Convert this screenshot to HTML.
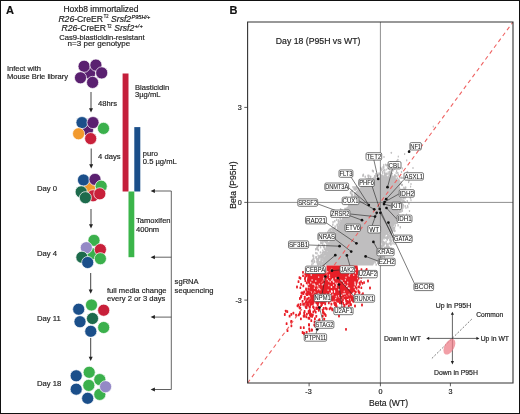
<!DOCTYPE html>
<html><head><meta charset="utf-8"><style>
html,body{margin:0;padding:0;background:#fff;}
svg{display:block;will-change:transform;font-family:"Liberation Sans", sans-serif;}
text{stroke:#222;stroke-width:0.18px;}
text.lb{stroke:#1a1a1a;stroke-width:0.05px;}
</style></head><body>
<svg width="520" height="414" viewBox="0 0 520 414">
<rect x="0.5" y="0.5" width="519" height="413" fill="#fff" stroke="#111" stroke-width="1"/>
<text x="6" y="14.2" font-size="11" font-weight="bold" fill="#111">A</text>
<text x="101" y="12.4" font-size="8.5" text-anchor="middle" fill="#222" >Hoxb8 immortalized</text>
<text x="58.4" y="21.5" font-size="8.3" fill="#222" textLength="44.6" lengthAdjust="spacingAndGlyphs"><tspan font-style="italic">R26</tspan>-CreER</text>
<text x="103.8" y="18.4" font-size="4.80" fill="#222" textLength="4.7" lengthAdjust="spacingAndGlyphs">T2</text>
<text x="111.1" y="21.5" font-size="8.30" fill="#222" textLength="20" lengthAdjust="spacingAndGlyphs" font-style="italic">Srsf2</text>
<text x="131.5" y="18.8" font-size="5.20" fill="#222" textLength="18.9" lengthAdjust="spacingAndGlyphs" font-style="italic">P95H/+</text>
<text x="61.5" y="30.75" font-size="8.3" fill="#222" textLength="44.6" lengthAdjust="spacingAndGlyphs"><tspan font-style="italic">R26</tspan>-CreER</text>
<text x="106.89999999999999" y="27.65" font-size="4.80" fill="#222" textLength="4.7" lengthAdjust="spacingAndGlyphs">T2</text>
<text x="114.19999999999999" y="30.75" font-size="8.30" fill="#222" textLength="20" lengthAdjust="spacingAndGlyphs" font-style="italic">Srsf2</text>
<text x="134.6" y="28.05" font-size="5.20" fill="#222" textLength="8.1" lengthAdjust="spacingAndGlyphs" font-style="italic">+/+</text>
<text x="59.2" y="39.6" font-size="7.98" fill="#222" textLength="85.4" lengthAdjust="spacingAndGlyphs">Cas9-blasticidin-resistant</text>
<text x="67.6" y="46.1" font-size="7.98" fill="#222" textLength="62.7" lengthAdjust="spacingAndGlyphs">n=3 per genotype</text>
<text x="6.9" y="71.3" font-size="7.98" text-anchor="start" fill="#222" textLength="34.2" lengthAdjust="spacingAndGlyphs" >Infect with</text>
<text x="6.9" y="78.8" font-size="7.98" text-anchor="start" fill="#222" textLength="61.2" lengthAdjust="spacingAndGlyphs" >Mouse Brie library</text>
<circle cx="89.6" cy="73.2" r="6.05" fill="#5a2070" stroke="#fff" stroke-width="0.7"/>
<circle cx="84.1" cy="66.3" r="6.05" fill="#5a2070" stroke="#fff" stroke-width="0.7"/>
<circle cx="95.9" cy="65.1" r="6.05" fill="#5a2070" stroke="#fff" stroke-width="0.7"/>
<circle cx="101.7" cy="72.9" r="6.05" fill="#5a2070" stroke="#fff" stroke-width="0.7"/>
<circle cx="80.5" cy="77.8" r="6.05" fill="#5a2070" stroke="#fff" stroke-width="0.7"/>
<circle cx="92.6" cy="82.4" r="6.05" fill="#5a2070" stroke="#fff" stroke-width="0.7"/>
<line x1="91" y1="92" x2="91" y2="109.5" stroke="#222" stroke-width="0.85"/>
<path d="M89,108.2 L93,108.2 L91,112.5 Z" fill="#222"/>
<text x="98" y="106" font-size="7.98" text-anchor="start" fill="#222" textLength="19.0" lengthAdjust="spacingAndGlyphs" >48hrs</text>
<circle cx="87.5" cy="129.9" r="6.05" fill="#5a2070" stroke="#fff" stroke-width="0.7"/>
<circle cx="82.0" cy="122.6" r="6.05" fill="#1b4f8a" stroke="#fff" stroke-width="0.7"/>
<circle cx="93.0" cy="122.6" r="6.05" fill="#5a2070" stroke="#fff" stroke-width="0.7"/>
<circle cx="103.5" cy="128.4" r="6.05" fill="#3bb04c" stroke="#fff" stroke-width="0.7"/>
<circle cx="78.6" cy="133.8" r="6.05" fill="#f29a2e" stroke="#fff" stroke-width="0.7"/>
<circle cx="90.7" cy="138.6" r="6.05" fill="#c8203a" stroke="#fff" stroke-width="0.7"/>
<line x1="91.2" y1="148.5" x2="91.2" y2="165.6" stroke="#222" stroke-width="0.85"/>
<path d="M89.2,164.29999999999998 L93.2,164.29999999999998 L91.2,168.6 Z" fill="#222"/>
<text x="98.1" y="159.2" font-size="7.98" text-anchor="start" fill="#222" textLength="22.4" lengthAdjust="spacingAndGlyphs" >4 days</text>
<circle cx="89.6" cy="188.0" r="6.05" fill="#f29a2e" stroke="#fff" stroke-width="0.7"/>
<circle cx="83.5" cy="180.0" r="6.05" fill="#1b4f8a" stroke="#fff" stroke-width="0.7"/>
<circle cx="95.0" cy="179.4" r="6.05" fill="#5a2070" stroke="#fff" stroke-width="0.7"/>
<circle cx="101.2" cy="186.2" r="6.05" fill="#3bb04c" stroke="#fff" stroke-width="0.7"/>
<circle cx="81.2" cy="191.9" r="6.05" fill="#1d6b4c" stroke="#fff" stroke-width="0.7"/>
<circle cx="93.0" cy="195.8" r="6.05" fill="#c8203a" stroke="#fff" stroke-width="0.7"/>
<circle cx="99.8" cy="193.8" r="6.05" fill="#c8203a" stroke="#fff" stroke-width="0.7"/>
<circle cx="85.4" cy="197.7" r="6.05" fill="#1d6b4c" stroke="#fff" stroke-width="0.7"/>
<text x="36.9" y="191" font-size="8.09" text-anchor="start" fill="#222" textLength="20.1" lengthAdjust="spacingAndGlyphs" >Day 0</text>
<line x1="91" y1="209" x2="91" y2="225.5" stroke="#222" stroke-width="0.85"/>
<path d="M89,224.2 L93,224.2 L91,228.5 Z" fill="#222"/>
<circle cx="92.7" cy="253.8" r="6.05" fill="#3bb04c" stroke="#fff" stroke-width="0.7"/>
<circle cx="94.0" cy="240.4" r="6.05" fill="#3bb04c" stroke="#fff" stroke-width="0.7"/>
<circle cx="86.3" cy="247.7" r="6.05" fill="#9489c6" stroke="#fff" stroke-width="0.7"/>
<circle cx="100.4" cy="249.6" r="6.05" fill="#c8203a" stroke="#fff" stroke-width="0.7"/>
<circle cx="100.4" cy="258.7" r="6.05" fill="#3bb04c" stroke="#fff" stroke-width="0.7"/>
<circle cx="81.9" cy="257.3" r="6.05" fill="#1d6b4c" stroke="#fff" stroke-width="0.7"/>
<circle cx="87.7" cy="262.5" r="6.05" fill="#1b4f8a" stroke="#fff" stroke-width="0.7"/>
<text x="36.9" y="256.2" font-size="8.09" text-anchor="start" fill="#222" textLength="20.1" lengthAdjust="spacingAndGlyphs" >Day 4</text>
<line x1="90.7" y1="273" x2="90.7" y2="290.8" stroke="#222" stroke-width="0.85"/>
<path d="M88.7,289.5 L92.7,289.5 L90.7,293.8 Z" fill="#222"/>
<text x="107" y="292.8" font-size="7.98" text-anchor="start" fill="#222" textLength="59.6" lengthAdjust="spacingAndGlyphs" >full media change</text>
<text x="107" y="300.8" font-size="7.98" text-anchor="start" fill="#222" textLength="58.3" lengthAdjust="spacingAndGlyphs" >every 2 or 3 days</text>
<circle cx="91.5" cy="305.0" r="6.05" fill="#3bb04c" stroke="#fff" stroke-width="0.7"/>
<circle cx="78.7" cy="309.2" r="6.05" fill="#1b4f8a" stroke="#fff" stroke-width="0.7"/>
<circle cx="103.7" cy="310.2" r="6.05" fill="#c8203a" stroke="#fff" stroke-width="0.7"/>
<circle cx="92.5" cy="318.5" r="6.05" fill="#1d6b4c" stroke="#fff" stroke-width="0.7"/>
<circle cx="80.0" cy="321.7" r="6.05" fill="#1b4f8a" stroke="#fff" stroke-width="0.7"/>
<circle cx="103.7" cy="327.5" r="6.05" fill="#3bb04c" stroke="#fff" stroke-width="0.7"/>
<circle cx="90.8" cy="331.3" r="6.05" fill="#1b4f8a" stroke="#fff" stroke-width="0.7"/>
<text x="36.9" y="321.2" font-size="8.09" text-anchor="start" fill="#222" textLength="23.8" lengthAdjust="spacingAndGlyphs" >Day 11</text>
<line x1="90.7" y1="338" x2="90.7" y2="358" stroke="#222" stroke-width="0.85"/>
<path d="M88.7,356.7 L92.7,356.7 L90.7,361 Z" fill="#222"/>
<circle cx="89.2" cy="372.3" r="6.05" fill="#3bb04c" stroke="#fff" stroke-width="0.7"/>
<circle cx="76.2" cy="375.8" r="6.05" fill="#1b4f8a" stroke="#fff" stroke-width="0.7"/>
<circle cx="99.8" cy="379.6" r="6.05" fill="#3bb04c" stroke="#fff" stroke-width="0.7"/>
<circle cx="88.8" cy="385.4" r="6.05" fill="#3bb04c" stroke="#fff" stroke-width="0.7"/>
<circle cx="76.2" cy="389.2" r="6.05" fill="#1b4f8a" stroke="#fff" stroke-width="0.7"/>
<circle cx="99.8" cy="394.4" r="6.05" fill="#3bb04c" stroke="#fff" stroke-width="0.7"/>
<circle cx="105.6" cy="386.7" r="6.05" fill="#9489c6" stroke="#fff" stroke-width="0.7"/>
<circle cx="87.7" cy="398.3" r="6.05" fill="#1b4f8a" stroke="#fff" stroke-width="0.7"/>
<text x="36.9" y="386.2" font-size="8.09" text-anchor="start" fill="#222" textLength="24.4" lengthAdjust="spacingAndGlyphs" >Day 18</text>
<rect x="122.6" y="73.5" width="5.9" height="118" fill="#c41f3b"/>
<rect x="134.3" y="127.1" width="6" height="64.4" fill="#1b4f8a"/>
<rect x="128.5" y="191.5" width="5.8" height="65.7" fill="#3bb54a"/>
<text x="135" y="89.6" font-size="7.98" text-anchor="start" fill="#222" textLength="34.2" lengthAdjust="spacingAndGlyphs" >Blasticidin</text>
<text x="135" y="97.4" font-size="7.98" text-anchor="start" fill="#222" textLength="25.5" lengthAdjust="spacingAndGlyphs" >3µg/mL</text>
<text x="142.8" y="155.7" font-size="7.98" text-anchor="start" fill="#222" textLength="15.2" lengthAdjust="spacingAndGlyphs" >puro</text>
<text x="142.8" y="163.5" font-size="7.98" text-anchor="start" fill="#222" textLength="34.0" lengthAdjust="spacingAndGlyphs" >0.5 µg/mL</text>
<text x="136" y="223" font-size="7.98" text-anchor="start" fill="#222" textLength="34.6" lengthAdjust="spacingAndGlyphs" >Tamoxifen</text>
<text x="136" y="231.7" font-size="7.98" text-anchor="start" fill="#222" textLength="23.2" lengthAdjust="spacingAndGlyphs" >400nm</text>
<line x1="171.3" y1="191" x2="171.3" y2="389.5" stroke="#555" stroke-width="0.9"/>
<line x1="153.6" y1="191" x2="171.3" y2="191" stroke="#444" stroke-width="0.85"/>
<path d="M154.9,189 L154.9,193 L150.6,191 Z" fill="#222"/>
<line x1="153.6" y1="257.2" x2="171.3" y2="257.2" stroke="#444" stroke-width="0.85"/>
<path d="M154.9,255.2 L154.9,259.2 L150.6,257.2 Z" fill="#222"/>
<line x1="153.6" y1="317.1" x2="171.3" y2="317.1" stroke="#444" stroke-width="0.85"/>
<path d="M154.9,315.1 L154.9,319.1 L150.6,317.1 Z" fill="#222"/>
<line x1="153.6" y1="389.5" x2="171.3" y2="389.5" stroke="#444" stroke-width="0.85"/>
<path d="M154.9,387.5 L154.9,391.5 L150.6,389.5 Z" fill="#222"/>
<text x="174.6" y="284.2" font-size="7.98" text-anchor="start" fill="#222" textLength="24.1" lengthAdjust="spacingAndGlyphs" >sgRNA</text>
<text x="174.6" y="293" font-size="7.98" text-anchor="start" fill="#222" textLength="38.9" lengthAdjust="spacingAndGlyphs" >sequencing</text>
<text x="229.6" y="14.1" font-size="11" font-weight="bold" fill="#111">B</text>
<defs><clipPath id="pc"><rect x="247.6" y="22" width="265.4" height="361"/></clipPath></defs>
<g clip-path="url(#pc)">
<polygon points="385,177 393,177 398,182 401,190 402,200 399,208 397,218 394,226 390,232 385,236 382,242 380,250 377,258 373,265.5 321,265.5 324,258 328,250 331,243 334,236 337,228 341,220 347,211 351,204 353,197 356,191 362,186 369,181 375,178 380,177" fill="#bfbebf"/>
<rect x="321.4" y="257.3" width="1.4" height="2.4" rx="0.6" fill="#bfbebf"/>
<rect x="369.0" y="177.9" width="1.4" height="2.4" rx="0.6" fill="#bfbebf"/>
<rect x="362.4" y="183.8" width="1.4" height="2.4" rx="0.6" fill="#bfbebf"/>
<rect x="399.8" y="209.5" width="1.4" height="2.4" rx="0.6" fill="#bfbebf"/>
<rect x="385.2" y="173.6" width="1.4" height="2.4" rx="0.6" fill="#bfbebf"/>
<rect x="378.4" y="253.6" width="1.4" height="2.4" rx="0.6" fill="#bfbebf"/>
<rect x="375.2" y="173.0" width="1.4" height="2.4" rx="0.6" fill="#bfbebf"/>
<rect x="344.8" y="211.6" width="1.4" height="2.4" rx="0.6" fill="#bfbebf"/>
<rect x="389.4" y="171.7" width="1.4" height="2.4" rx="0.6" fill="#bfbebf"/>
<rect x="389.4" y="174.8" width="1.4" height="2.4" rx="0.6" fill="#bfbebf"/>
<rect x="334.1" y="220.0" width="1.4" height="2.4" rx="0.6" fill="#bfbebf"/>
<rect x="353.6" y="188.0" width="1.4" height="2.4" rx="0.6" fill="#bfbebf"/>
<rect x="354.5" y="188.7" width="1.4" height="2.4" rx="0.6" fill="#bfbebf"/>
<rect x="390.2" y="172.7" width="1.4" height="2.4" rx="0.6" fill="#bfbebf"/>
<rect x="347.2" y="207.4" width="1.4" height="2.4" rx="0.6" fill="#bfbebf"/>
<rect x="341.1" y="215.7" width="1.4" height="2.4" rx="0.6" fill="#bfbebf"/>
<rect x="396.0" y="218.6" width="1.4" height="2.4" rx="0.6" fill="#bfbebf"/>
<rect x="389.0" y="235.4" width="1.4" height="2.4" rx="0.6" fill="#bfbebf"/>
<rect x="402.8" y="197.0" width="1.4" height="2.4" rx="0.6" fill="#bfbebf"/>
<rect x="382.2" y="175.6" width="1.4" height="2.4" rx="0.6" fill="#bfbebf"/>
<rect x="400.5" y="204.1" width="1.4" height="2.4" rx="0.6" fill="#bfbebf"/>
<rect x="378.2" y="261.6" width="1.4" height="2.4" rx="0.6" fill="#bfbebf"/>
<rect x="376.9" y="259.3" width="1.4" height="2.4" rx="0.6" fill="#bfbebf"/>
<rect x="356.0" y="185.5" width="1.4" height="2.4" rx="0.6" fill="#bfbebf"/>
<rect x="394.8" y="178.2" width="1.4" height="2.4" rx="0.6" fill="#bfbebf"/>
<rect x="394.5" y="222.1" width="1.4" height="2.4" rx="0.6" fill="#bfbebf"/>
<rect x="331.6" y="238.0" width="1.4" height="2.4" rx="0.6" fill="#bfbebf"/>
<rect x="397.4" y="180.2" width="1.4" height="2.4" rx="0.6" fill="#bfbebf"/>
<rect x="320.6" y="255.9" width="1.4" height="2.4" rx="0.6" fill="#bfbebf"/>
<rect x="383.1" y="241.4" width="1.4" height="2.4" rx="0.6" fill="#bfbebf"/>
<rect x="346.5" y="208.8" width="1.4" height="2.4" rx="0.6" fill="#bfbebf"/>
<rect x="349.8" y="191.8" width="1.4" height="2.4" rx="0.6" fill="#bfbebf"/>
<rect x="383.3" y="253.5" width="1.4" height="2.4" rx="0.6" fill="#bfbebf"/>
<rect x="401.4" y="198.5" width="1.4" height="2.4" rx="0.6" fill="#bfbebf"/>
<rect x="316.2" y="260.4" width="1.4" height="2.4" rx="0.6" fill="#bfbebf"/>
<rect x="382.4" y="244.2" width="1.4" height="2.4" rx="0.6" fill="#bfbebf"/>
<rect x="381.8" y="249.6" width="1.4" height="2.4" rx="0.6" fill="#bfbebf"/>
<rect x="348.2" y="205.8" width="1.4" height="2.4" rx="0.6" fill="#bfbebf"/>
<rect x="372.1" y="177.7" width="1.4" height="2.4" rx="0.6" fill="#bfbebf"/>
<rect x="397.4" y="224.1" width="1.4" height="2.4" rx="0.6" fill="#bfbebf"/>
<rect x="342.0" y="212.9" width="1.4" height="2.4" rx="0.6" fill="#bfbebf"/>
<rect x="380.8" y="245.5" width="1.4" height="2.4" rx="0.6" fill="#bfbebf"/>
<rect x="381.9" y="241.7" width="1.4" height="2.4" rx="0.6" fill="#bfbebf"/>
<rect x="349.3" y="198.4" width="1.4" height="2.4" rx="0.6" fill="#bfbebf"/>
<rect x="378.3" y="172.2" width="1.4" height="2.4" rx="0.6" fill="#bfbebf"/>
<rect x="377.0" y="256.1" width="1.4" height="2.4" rx="0.6" fill="#bfbebf"/>
<rect x="338.0" y="222.4" width="1.4" height="2.4" rx="0.6" fill="#bfbebf"/>
<rect x="384.4" y="174.6" width="1.4" height="2.4" rx="0.6" fill="#bfbebf"/>
<rect x="380.3" y="245.4" width="1.4" height="2.4" rx="0.6" fill="#bfbebf"/>
<rect x="400.1" y="208.0" width="1.4" height="2.4" rx="0.6" fill="#bfbebf"/>
<rect x="385.1" y="174.0" width="1.4" height="2.4" rx="0.6" fill="#bfbebf"/>
<rect x="329.9" y="240.4" width="1.4" height="2.4" rx="0.6" fill="#bfbebf"/>
<rect x="399.6" y="226.1" width="1.4" height="2.4" rx="0.6" fill="#bfbebf"/>
<rect x="344.4" y="207.6" width="1.4" height="2.4" rx="0.6" fill="#bfbebf"/>
<rect x="330.1" y="236.7" width="1.4" height="2.4" rx="0.6" fill="#bfbebf"/>
<rect x="393.8" y="177.3" width="1.4" height="2.4" rx="0.6" fill="#bfbebf"/>
<rect x="397.0" y="177.3" width="1.4" height="2.4" rx="0.6" fill="#bfbebf"/>
<rect x="398.1" y="179.1" width="1.4" height="2.4" rx="0.6" fill="#bfbebf"/>
<rect x="398.2" y="180.0" width="1.4" height="2.4" rx="0.6" fill="#bfbebf"/>
<rect x="330.2" y="240.9" width="1.4" height="2.4" rx="0.6" fill="#bfbebf"/>
<rect x="327.0" y="243.7" width="1.4" height="2.4" rx="0.6" fill="#bfbebf"/>
<rect x="351.8" y="193.5" width="1.4" height="2.4" rx="0.6" fill="#bfbebf"/>
<rect x="339.5" y="215.6" width="1.4" height="2.4" rx="0.6" fill="#bfbebf"/>
<rect x="324.5" y="252.2" width="1.4" height="2.4" rx="0.6" fill="#bfbebf"/>
<rect x="342.0" y="213.4" width="1.4" height="2.4" rx="0.6" fill="#bfbebf"/>
<rect x="390.4" y="233.5" width="1.4" height="2.4" rx="0.6" fill="#bfbebf"/>
<rect x="333.5" y="231.4" width="1.4" height="2.4" rx="0.6" fill="#bfbebf"/>
<rect x="384.3" y="249.0" width="1.4" height="2.4" rx="0.6" fill="#bfbebf"/>
<rect x="376.1" y="174.8" width="1.4" height="2.4" rx="0.6" fill="#bfbebf"/>
<rect x="376.4" y="259.6" width="1.4" height="2.4" rx="0.6" fill="#bfbebf"/>
<rect x="390.0" y="231.0" width="1.4" height="2.4" rx="0.6" fill="#bfbebf"/>
<rect x="392.5" y="226.8" width="1.4" height="2.4" rx="0.6" fill="#bfbebf"/>
<rect x="362.6" y="173.6" width="1.4" height="2.4" rx="0.6" fill="#bfbebf"/>
<rect x="353.9" y="192.0" width="1.4" height="2.4" rx="0.6" fill="#bfbebf"/>
<rect x="374.7" y="176.1" width="1.4" height="2.4" rx="0.6" fill="#bfbebf"/>
<rect x="318.5" y="260.7" width="1.4" height="2.4" rx="0.6" fill="#bfbebf"/>
<rect x="330.5" y="239.5" width="1.4" height="2.4" rx="0.6" fill="#bfbebf"/>
<rect x="392.5" y="226.9" width="1.4" height="2.4" rx="0.6" fill="#bfbebf"/>
<rect x="376.4" y="257.4" width="1.4" height="2.4" rx="0.6" fill="#bfbebf"/>
<rect x="319.9" y="263.3" width="1.4" height="2.4" rx="0.6" fill="#bfbebf"/>
<rect x="403.8" y="191.0" width="1.4" height="2.4" rx="0.6" fill="#bfbebf"/>
<rect x="333.7" y="232.0" width="1.4" height="2.4" rx="0.6" fill="#bfbebf"/>
<rect x="399.0" y="210.6" width="1.4" height="2.4" rx="0.6" fill="#bfbebf"/>
<rect x="355.8" y="186.3" width="1.4" height="2.4" rx="0.6" fill="#bfbebf"/>
<rect x="317.0" y="261.8" width="1.4" height="2.4" rx="0.6" fill="#bfbebf"/>
<rect x="330.9" y="238.0" width="1.4" height="2.4" rx="0.6" fill="#bfbebf"/>
<rect x="400.0" y="206.7" width="1.4" height="2.4" rx="0.6" fill="#bfbebf"/>
<rect x="339.7" y="219.2" width="1.4" height="2.4" rx="0.6" fill="#bfbebf"/>
<rect x="322.2" y="249.2" width="1.4" height="2.4" rx="0.6" fill="#bfbebf"/>
<rect x="347.5" y="199.4" width="1.4" height="2.4" rx="0.6" fill="#bfbebf"/>
<rect x="394.9" y="175.4" width="1.4" height="2.4" rx="0.6" fill="#bfbebf"/>
<rect x="386.3" y="172.8" width="1.4" height="2.4" rx="0.6" fill="#bfbebf"/>
<rect x="389.5" y="233.0" width="1.4" height="2.4" rx="0.6" fill="#bfbebf"/>
<rect x="394.6" y="221.3" width="1.4" height="2.4" rx="0.6" fill="#bfbebf"/>
<rect x="401.3" y="194.4" width="1.4" height="2.4" rx="0.6" fill="#bfbebf"/>
<rect x="391.7" y="229.8" width="1.4" height="2.4" rx="0.6" fill="#bfbebf"/>
<rect x="390.1" y="241.3" width="1.4" height="2.4" rx="0.6" fill="#bfbebf"/>
<rect x="408.2" y="202.3" width="1.4" height="2.4" rx="0.6" fill="#bfbebf"/>
<rect x="361.6" y="181.8" width="1.4" height="2.4" rx="0.6" fill="#bfbebf"/>
<rect x="320.7" y="261.8" width="1.4" height="2.4" rx="0.6" fill="#bfbebf"/>
<rect x="331.5" y="238.2" width="1.4" height="2.4" rx="0.6" fill="#bfbebf"/>
<rect x="396.2" y="221.5" width="1.4" height="2.4" rx="0.6" fill="#bfbebf"/>
<rect x="349.4" y="203.9" width="1.4" height="2.4" rx="0.6" fill="#bfbebf"/>
<rect x="327.4" y="244.5" width="1.4" height="2.4" rx="0.6" fill="#bfbebf"/>
<rect x="376.9" y="258.7" width="1.4" height="2.4" rx="0.6" fill="#bfbebf"/>
<rect x="339.2" y="212.9" width="1.4" height="2.4" rx="0.6" fill="#bfbebf"/>
<rect x="359.5" y="181.6" width="1.4" height="2.4" rx="0.6" fill="#bfbebf"/>
<rect x="336.9" y="223.4" width="1.4" height="2.4" rx="0.6" fill="#bfbebf"/>
<rect x="325.3" y="252.3" width="1.4" height="2.4" rx="0.6" fill="#bfbebf"/>
<rect x="345.3" y="210.6" width="1.4" height="2.4" rx="0.6" fill="#bfbebf"/>
<rect x="400.8" y="192.5" width="1.4" height="2.4" rx="0.6" fill="#bfbebf"/>
<rect x="401.1" y="176.6" width="1.4" height="2.4" rx="0.6" fill="#bfbebf"/>
<rect x="397.7" y="179.0" width="1.4" height="2.4" rx="0.6" fill="#bfbebf"/>
<rect x="401.4" y="188.4" width="1.4" height="2.4" rx="0.6" fill="#bfbebf"/>
<rect x="359.5" y="182.9" width="1.4" height="2.4" rx="0.6" fill="#bfbebf"/>
<rect x="380.8" y="246.3" width="1.4" height="2.4" rx="0.6" fill="#bfbebf"/>
<rect x="394.5" y="224.4" width="1.4" height="2.4" rx="0.6" fill="#bfbebf"/>
<rect x="346.2" y="209.9" width="1.4" height="2.4" rx="0.6" fill="#bfbebf"/>
<rect x="368.2" y="174.6" width="1.4" height="2.4" rx="0.6" fill="#bfbebf"/>
<rect x="345.1" y="210.6" width="1.4" height="2.4" rx="0.6" fill="#bfbebf"/>
<rect x="397.6" y="220.3" width="1.4" height="2.4" rx="0.6" fill="#bfbebf"/>
<rect x="393.4" y="227.8" width="1.4" height="2.4" rx="0.6" fill="#bfbebf"/>
<rect x="323.5" y="239.1" width="1.4" height="2.4" rx="0.6" fill="#bfbebf"/>
<rect x="343.8" y="211.9" width="1.4" height="2.4" rx="0.6" fill="#bfbebf"/>
<rect x="354.6" y="186.5" width="1.4" height="2.4" rx="0.6" fill="#bfbebf"/>
<rect x="354.8" y="187.7" width="1.4" height="2.4" rx="0.6" fill="#bfbebf"/>
<rect x="349.4" y="200.6" width="1.4" height="2.4" rx="0.6" fill="#bfbebf"/>
<rect x="339.9" y="208.1" width="1.4" height="2.4" rx="0.6" fill="#bfbebf"/>
<rect x="336.8" y="225.4" width="1.4" height="2.4" rx="0.6" fill="#bfbebf"/>
<rect x="386.0" y="172.5" width="1.4" height="2.4" rx="0.6" fill="#bfbebf"/>
<rect x="341.2" y="209.0" width="1.4" height="2.4" rx="0.6" fill="#bfbebf"/>
<rect x="398.3" y="181.2" width="1.4" height="2.4" rx="0.6" fill="#bfbebf"/>
<rect x="402.8" y="199.8" width="1.4" height="2.4" rx="0.6" fill="#bfbebf"/>
<rect x="378.7" y="172.8" width="1.4" height="2.4" rx="0.6" fill="#bfbebf"/>
<rect x="367.9" y="176.1" width="1.4" height="2.4" rx="0.6" fill="#bfbebf"/>
<rect x="326.3" y="238.4" width="1.4" height="2.4" rx="0.6" fill="#bfbebf"/>
<rect x="349.2" y="199.9" width="1.4" height="2.4" rx="0.6" fill="#bfbebf"/>
<rect x="340.8" y="212.6" width="1.4" height="2.4" rx="0.6" fill="#bfbebf"/>
<rect x="401.3" y="183.7" width="1.4" height="2.4" rx="0.6" fill="#bfbebf"/>
<rect x="319.9" y="260.9" width="1.4" height="2.4" rx="0.6" fill="#bfbebf"/>
<rect x="349.1" y="198.0" width="1.4" height="2.4" rx="0.6" fill="#bfbebf"/>
<rect x="382.9" y="241.5" width="1.4" height="2.4" rx="0.6" fill="#bfbebf"/>
<rect x="356.0" y="187.7" width="1.4" height="2.4" rx="0.6" fill="#bfbebf"/>
<rect x="383.9" y="171.2" width="1.4" height="2.4" rx="0.6" fill="#bfbebf"/>
<rect x="384.5" y="246.4" width="1.4" height="2.4" rx="0.6" fill="#bfbebf"/>
<rect x="401.4" y="207.7" width="1.4" height="2.4" rx="0.6" fill="#bfbebf"/>
<rect x="334.3" y="229.5" width="1.4" height="2.4" rx="0.6" fill="#bfbebf"/>
<rect x="329.7" y="229.9" width="1.4" height="2.4" rx="0.6" fill="#bfbebf"/>
<rect x="367.7" y="177.1" width="1.4" height="2.4" rx="0.6" fill="#bfbebf"/>
<rect x="381.3" y="248.2" width="1.4" height="2.4" rx="0.6" fill="#bfbebf"/>
<rect x="388.3" y="172.7" width="1.4" height="2.4" rx="0.6" fill="#bfbebf"/>
<rect x="350.8" y="193.2" width="1.4" height="2.4" rx="0.6" fill="#bfbebf"/>
<rect x="399.3" y="206.3" width="1.4" height="2.4" rx="0.6" fill="#bfbebf"/>
<rect x="400.8" y="190.7" width="1.4" height="2.4" rx="0.6" fill="#bfbebf"/>
<rect x="391.1" y="175.8" width="1.4" height="2.4" rx="0.6" fill="#bfbebf"/>
<rect x="380.5" y="174.6" width="1.4" height="2.4" rx="0.6" fill="#bfbebf"/>
<rect x="351.3" y="195.6" width="1.4" height="2.4" rx="0.6" fill="#bfbebf"/>
<rect x="336.7" y="225.3" width="1.4" height="2.4" rx="0.6" fill="#bfbebf"/>
<rect x="344.7" y="208.1" width="1.4" height="2.4" rx="0.6" fill="#bfbebf"/>
<rect x="347.2" y="206.8" width="1.4" height="2.4" rx="0.6" fill="#bfbebf"/>
<rect x="386.1" y="243.8" width="1.4" height="2.4" rx="0.6" fill="#bfbebf"/>
<rect x="328.7" y="233.1" width="1.4" height="2.4" rx="0.6" fill="#bfbebf"/>
<rect x="389.0" y="173.6" width="1.4" height="2.4" rx="0.6" fill="#bfbebf"/>
<rect x="381.2" y="248.9" width="1.4" height="2.4" rx="0.6" fill="#bfbebf"/>
<rect x="341.7" y="216.1" width="1.4" height="2.4" rx="0.6" fill="#bfbebf"/>
<rect x="398.6" y="183.9" width="1.4" height="2.4" rx="0.6" fill="#bfbebf"/>
<rect x="400.3" y="181.1" width="1.4" height="2.4" rx="0.6" fill="#bfbebf"/>
<rect x="397.4" y="212.2" width="1.4" height="2.4" rx="0.6" fill="#bfbebf"/>
<rect x="327.1" y="231.2" width="1.4" height="2.4" rx="0.6" fill="#bfbebf"/>
<rect x="384.0" y="246.8" width="1.4" height="2.4" rx="0.6" fill="#bfbebf"/>
<rect x="350.1" y="191.0" width="1.4" height="2.4" rx="0.6" fill="#bfbebf"/>
<rect x="393.9" y="226.4" width="1.4" height="2.4" rx="0.6" fill="#bfbebf"/>
<rect x="371.8" y="169.4" width="1.4" height="2.4" rx="0.6" fill="#bfbebf"/>
<rect x="358.0" y="182.2" width="1.4" height="2.4" rx="0.6" fill="#bfbebf"/>
<rect x="379.8" y="247.2" width="1.4" height="2.4" rx="0.6" fill="#bfbebf"/>
<rect x="366.5" y="178.2" width="1.4" height="2.4" rx="0.6" fill="#bfbebf"/>
<rect x="395.4" y="178.5" width="1.4" height="2.4" rx="0.6" fill="#bfbebf"/>
<rect x="330.8" y="230.7" width="1.4" height="2.4" rx="0.6" fill="#bfbebf"/>
<rect x="385.7" y="236.2" width="1.4" height="2.4" rx="0.6" fill="#bfbebf"/>
<rect x="373.6" y="176.6" width="1.4" height="2.4" rx="0.6" fill="#bfbebf"/>
<rect x="339.4" y="212.9" width="1.4" height="2.4" rx="0.6" fill="#bfbebf"/>
<rect x="361.8" y="183.1" width="1.4" height="2.4" rx="0.6" fill="#bfbebf"/>
<rect x="345.6" y="208.1" width="1.4" height="2.4" rx="0.6" fill="#bfbebf"/>
<rect x="320.7" y="261.6" width="1.4" height="2.4" rx="0.6" fill="#bfbebf"/>
<rect x="378.3" y="253.2" width="1.4" height="2.4" rx="0.6" fill="#bfbebf"/>
<rect x="383.5" y="242.7" width="1.4" height="2.4" rx="0.6" fill="#bfbebf"/>
<rect x="374.0" y="174.9" width="1.4" height="2.4" rx="0.6" fill="#bfbebf"/>
<rect x="331.1" y="239.5" width="1.4" height="2.4" rx="0.6" fill="#bfbebf"/>
<rect x="382.1" y="174.6" width="1.4" height="2.4" rx="0.6" fill="#bfbebf"/>
<rect x="386.9" y="232.9" width="1.4" height="2.4" rx="0.6" fill="#bfbebf"/>
<rect x="405.4" y="195.4" width="1.4" height="2.4" rx="0.6" fill="#bfbebf"/>
<rect x="325.5" y="248.1" width="1.4" height="2.4" rx="0.6" fill="#bfbebf"/>
<rect x="397.6" y="173.5" width="1.4" height="2.4" rx="0.6" fill="#bfbebf"/>
<rect x="351.1" y="193.5" width="1.4" height="2.4" rx="0.6" fill="#bfbebf"/>
<rect x="350.9" y="197.1" width="1.4" height="2.4" rx="0.6" fill="#bfbebf"/>
<rect x="379.0" y="256.9" width="1.4" height="2.4" rx="0.6" fill="#bfbebf"/>
<rect x="369.6" y="177.8" width="1.4" height="2.4" rx="0.6" fill="#bfbebf"/>
<rect x="400.2" y="210.5" width="1.4" height="2.4" rx="0.6" fill="#bfbebf"/>
<rect x="328.4" y="245.1" width="1.4" height="2.4" rx="0.6" fill="#bfbebf"/>
<rect x="405.0" y="186.3" width="1.4" height="2.4" rx="0.6" fill="#bfbebf"/>
<rect x="373.7" y="176.7" width="1.4" height="2.4" rx="0.6" fill="#bfbebf"/>
<rect x="387.0" y="236.8" width="1.4" height="2.4" rx="0.6" fill="#bfbebf"/>
<rect x="378.6" y="257.1" width="1.4" height="2.4" rx="0.6" fill="#bfbebf"/>
<rect x="360.7" y="184.9" width="1.4" height="2.4" rx="0.6" fill="#bfbebf"/>
<rect x="366.4" y="179.5" width="1.4" height="2.4" rx="0.6" fill="#bfbebf"/>
<rect x="371.4" y="177.9" width="1.4" height="2.4" rx="0.6" fill="#bfbebf"/>
<rect x="349.8" y="199.7" width="1.4" height="2.4" rx="0.6" fill="#bfbebf"/>
<rect x="387.6" y="233.5" width="1.4" height="2.4" rx="0.6" fill="#bfbebf"/>
<rect x="323.1" y="253.4" width="1.4" height="2.4" rx="0.6" fill="#bfbebf"/>
<rect x="335.7" y="211.9" width="1.4" height="2.4" rx="0.6" fill="#bfbebf"/>
<rect x="403.5" y="187.8" width="1.4" height="2.4" rx="0.6" fill="#bfbebf"/>
<rect x="402.2" y="206.0" width="1.4" height="2.4" rx="0.6" fill="#bfbebf"/>
<rect x="332.3" y="234.2" width="1.4" height="2.4" rx="0.6" fill="#bfbebf"/>
<rect x="319.3" y="254.7" width="1.4" height="2.4" rx="0.6" fill="#bfbebf"/>
<rect x="400.9" y="201.7" width="1.4" height="2.4" rx="0.6" fill="#bfbebf"/>
<rect x="393.7" y="177.1" width="1.4" height="2.4" rx="0.6" fill="#bfbebf"/>
<rect x="400.8" y="217.5" width="1.4" height="2.4" rx="0.6" fill="#bfbebf"/>
<rect x="327.0" y="247.8" width="1.4" height="2.4" rx="0.6" fill="#bfbebf"/>
<rect x="385.9" y="242.8" width="1.4" height="2.4" rx="0.6" fill="#bfbebf"/>
<rect x="353.6" y="187.6" width="1.4" height="2.4" rx="0.6" fill="#bfbebf"/>
<rect x="357.7" y="186.9" width="1.4" height="2.4" rx="0.6" fill="#bfbebf"/>
<rect x="400.0" y="204.6" width="1.4" height="2.4" rx="0.6" fill="#bfbebf"/>
<rect x="339.9" y="214.2" width="1.4" height="2.4" rx="0.6" fill="#bfbebf"/>
<rect x="332.0" y="228.9" width="1.4" height="2.4" rx="0.6" fill="#bfbebf"/>
<rect x="333.5" y="233.3" width="1.4" height="2.4" rx="0.6" fill="#bfbebf"/>
<rect x="382.7" y="243.6" width="1.4" height="2.4" rx="0.6" fill="#bfbebf"/>
<rect x="321.5" y="253.3" width="1.4" height="2.4" rx="0.6" fill="#bfbebf"/>
<rect x="401.8" y="202.4" width="1.4" height="2.4" rx="0.6" fill="#bfbebf"/>
<rect x="343.0" y="210.2" width="1.4" height="2.4" rx="0.6" fill="#bfbebf"/>
<rect x="321.0" y="261.9" width="1.4" height="2.4" rx="0.6" fill="#bfbebf"/>
<rect x="325.0" y="240.8" width="1.4" height="2.4" rx="0.6" fill="#bfbebf"/>
<rect x="381.2" y="175.6" width="1.4" height="2.4" rx="0.6" fill="#bfbebf"/>
<rect x="321.8" y="242.8" width="1.4" height="2.4" rx="0.6" fill="#bfbebf"/>
<rect x="377.6" y="173.7" width="1.4" height="2.4" rx="0.6" fill="#bfbebf"/>
<rect x="385.1" y="236.6" width="1.4" height="2.4" rx="0.6" fill="#bfbebf"/>
<rect x="374.6" y="175.3" width="1.4" height="2.4" rx="0.6" fill="#bfbebf"/>
<rect x="399.3" y="204.1" width="1.4" height="2.4" rx="0.6" fill="#bfbebf"/>
<rect x="370.0" y="175.5" width="1.4" height="2.4" rx="0.6" fill="#bfbebf"/>
<rect x="375.5" y="263.4" width="1.4" height="2.4" rx="0.6" fill="#bfbebf"/>
<rect x="397.9" y="181.5" width="1.4" height="2.4" rx="0.6" fill="#bfbebf"/>
<rect x="398.8" y="208.0" width="1.4" height="2.4" rx="0.6" fill="#bfbebf"/>
<rect x="329.7" y="230.8" width="1.4" height="2.4" rx="0.6" fill="#bfbebf"/>
<rect x="398.9" y="215.9" width="1.4" height="2.4" rx="0.6" fill="#bfbebf"/>
<rect x="342.3" y="213.3" width="1.4" height="2.4" rx="0.6" fill="#bfbebf"/>
<rect x="382.1" y="240.3" width="1.4" height="2.4" rx="0.6" fill="#bfbebf"/>
<rect x="401.0" y="203.5" width="1.4" height="2.4" rx="0.6" fill="#bfbebf"/>
<rect x="401.8" y="189.6" width="1.4" height="2.4" rx="0.6" fill="#bfbebf"/>
<rect x="332.4" y="221.0" width="1.4" height="2.4" rx="0.6" fill="#bfbebf"/>
<rect x="384.3" y="173.8" width="1.4" height="2.4" rx="0.6" fill="#bfbebf"/>
<rect x="348.2" y="204.6" width="1.4" height="2.4" rx="0.6" fill="#bfbebf"/>
<rect x="338.1" y="220.1" width="1.4" height="2.4" rx="0.6" fill="#bfbebf"/>
<rect x="345.2" y="209.7" width="1.4" height="2.4" rx="0.6" fill="#bfbebf"/>
<rect x="331.3" y="234.8" width="1.4" height="2.4" rx="0.6" fill="#bfbebf"/>
<rect x="394.2" y="174.9" width="1.4" height="2.4" rx="0.6" fill="#bfbebf"/>
<rect x="340.3" y="215.0" width="1.4" height="2.4" rx="0.6" fill="#bfbebf"/>
<rect x="394.4" y="222.2" width="1.4" height="2.4" rx="0.6" fill="#bfbebf"/>
<rect x="387.9" y="236.3" width="1.4" height="2.4" rx="0.6" fill="#bfbebf"/>
<rect x="352.4" y="186.0" width="1.4" height="2.4" rx="0.6" fill="#bfbebf"/>
<rect x="407.1" y="192.0" width="1.4" height="2.4" rx="0.6" fill="#bfbebf"/>
<rect x="398.7" y="208.0" width="1.4" height="2.4" rx="0.6" fill="#bfbebf"/>
<rect x="364.5" y="175.5" width="1.4" height="2.4" rx="0.6" fill="#bfbebf"/>
<rect x="390.7" y="229.1" width="1.4" height="2.4" rx="0.6" fill="#bfbebf"/>
<rect x="322.7" y="257.4" width="1.4" height="2.4" rx="0.6" fill="#bfbebf"/>
<rect x="328.6" y="244.9" width="1.4" height="2.4" rx="0.6" fill="#bfbebf"/>
<rect x="396.6" y="180.0" width="1.4" height="2.4" rx="0.6" fill="#bfbebf"/>
<rect x="336.4" y="223.6" width="1.4" height="2.4" rx="0.6" fill="#bfbebf"/>
<rect x="374.5" y="261.3" width="1.4" height="2.4" rx="0.6" fill="#bfbebf"/>
<rect x="342.7" y="213.4" width="1.4" height="2.4" rx="0.6" fill="#bfbebf"/>
<rect x="368.7" y="178.3" width="1.4" height="2.4" rx="0.6" fill="#bfbebf"/>
<rect x="402.6" y="192.3" width="1.4" height="2.4" rx="0.6" fill="#bfbebf"/>
<rect x="404.3" y="197.2" width="1.4" height="2.4" rx="0.6" fill="#bfbebf"/>
<rect x="318.0" y="258.2" width="1.4" height="2.4" rx="0.6" fill="#bfbebf"/>
<rect x="318.8" y="262.6" width="1.4" height="2.4" rx="0.6" fill="#bfbebf"/>
<rect x="387.7" y="175.3" width="1.4" height="2.4" rx="0.6" fill="#bfbebf"/>
<rect x="337.6" y="220.4" width="1.4" height="2.4" rx="0.6" fill="#bfbebf"/>
<rect x="347.6" y="207.0" width="1.4" height="2.4" rx="0.6" fill="#bfbebf"/>
<rect x="375.8" y="257.9" width="1.4" height="2.4" rx="0.6" fill="#bfbebf"/>
<rect x="316.6" y="261.2" width="1.4" height="2.4" rx="0.6" fill="#bfbebf"/>
<rect x="385.7" y="175.7" width="1.4" height="2.4" rx="0.6" fill="#bfbebf"/>
<rect x="377.2" y="256.5" width="1.4" height="2.4" rx="0.6" fill="#bfbebf"/>
<rect x="402.4" y="196.3" width="1.4" height="2.4" rx="0.6" fill="#bfbebf"/>
<rect x="394.1" y="229.6" width="1.4" height="2.4" rx="0.6" fill="#bfbebf"/>
<rect x="389.8" y="239.0" width="1.4" height="2.4" rx="0.6" fill="#bfbebf"/>
<rect x="329.7" y="234.6" width="1.4" height="2.4" rx="0.6" fill="#bfbebf"/>
<rect x="376.1" y="174.7" width="1.4" height="2.4" rx="0.6" fill="#bfbebf"/>
<rect x="381.6" y="248.1" width="1.4" height="2.4" rx="0.6" fill="#bfbebf"/>
<rect x="367.3" y="174.5" width="1.4" height="2.4" rx="0.6" fill="#bfbebf"/>
<rect x="324.7" y="238.8" width="1.4" height="2.4" rx="0.6" fill="#bfbebf"/>
<rect x="378.1" y="256.1" width="1.4" height="2.4" rx="0.6" fill="#bfbebf"/>
<rect x="332.1" y="223.5" width="1.4" height="2.4" rx="0.6" fill="#bfbebf"/>
<rect x="351.2" y="189.5" width="1.4" height="2.4" rx="0.6" fill="#bfbebf"/>
<rect x="347.5" y="206.3" width="1.4" height="2.4" rx="0.6" fill="#bfbebf"/>
<rect x="341.1" y="209.9" width="1.4" height="2.4" rx="0.6" fill="#bfbebf"/>
<rect x="365.4" y="178.3" width="1.4" height="2.4" rx="0.6" fill="#bfbebf"/>
<rect x="379.9" y="252.4" width="1.4" height="2.4" rx="0.6" fill="#bfbebf"/>
<rect x="327.9" y="245.0" width="1.4" height="2.4" rx="0.6" fill="#bfbebf"/>
<rect x="398.7" y="182.7" width="1.4" height="2.4" rx="0.6" fill="#bfbebf"/>
<rect x="374.5" y="175.3" width="1.4" height="2.4" rx="0.6" fill="#bfbebf"/>
<rect x="391.7" y="175.4" width="1.4" height="2.4" rx="0.6" fill="#bfbebf"/>
<rect x="323.0" y="245.7" width="1.4" height="2.4" rx="0.6" fill="#bfbebf"/>
<rect x="384.3" y="242.2" width="1.4" height="2.4" rx="0.6" fill="#bfbebf"/>
<rect x="325.9" y="246.4" width="1.4" height="2.4" rx="0.6" fill="#bfbebf"/>
<rect x="360.0" y="180.3" width="1.4" height="2.4" rx="0.6" fill="#bfbebf"/>
<rect x="326.9" y="247.6" width="1.4" height="2.4" rx="0.6" fill="#bfbebf"/>
<rect x="401.3" y="183.8" width="1.4" height="2.4" rx="0.6" fill="#bfbebf"/>
<rect x="347.8" y="206.5" width="1.4" height="2.4" rx="0.6" fill="#bfbebf"/>
<rect x="324.0" y="252.6" width="1.4" height="2.4" rx="0.6" fill="#bfbebf"/>
<rect x="403.2" y="186.4" width="1.4" height="2.4" rx="0.6" fill="#bfbebf"/>
<rect x="318.8" y="255.6" width="1.4" height="2.4" rx="0.6" fill="#bfbebf"/>
<rect x="382.6" y="240.7" width="1.4" height="2.4" rx="0.6" fill="#bfbebf"/>
<rect x="343.1" y="213.9" width="1.4" height="2.4" rx="0.6" fill="#bfbebf"/>
<rect x="321.7" y="251.4" width="1.4" height="2.4" rx="0.6" fill="#bfbebf"/>
<rect x="401.5" y="204.7" width="1.4" height="2.4" rx="0.6" fill="#bfbebf"/>
<rect x="368.8" y="178.4" width="1.4" height="2.4" rx="0.6" fill="#bfbebf"/>
<rect x="399.3" y="205.6" width="1.4" height="2.4" rx="0.6" fill="#bfbebf"/>
<rect x="397.6" y="212.3" width="1.4" height="2.4" rx="0.6" fill="#bfbebf"/>
<rect x="337.3" y="215.2" width="1.4" height="2.4" rx="0.6" fill="#bfbebf"/>
<rect x="398.6" y="207.2" width="1.4" height="2.4" rx="0.6" fill="#bfbebf"/>
<rect x="399.8" y="209.2" width="1.4" height="2.4" rx="0.6" fill="#bfbebf"/>
<rect x="387.0" y="235.1" width="1.4" height="2.4" rx="0.6" fill="#bfbebf"/>
<rect x="383.9" y="235.6" width="1.4" height="2.4" rx="0.6" fill="#bfbebf"/>
<rect x="366.0" y="181.0" width="1.4" height="2.4" rx="0.6" fill="#bfbebf"/>
<rect x="378.2" y="255.7" width="1.4" height="2.4" rx="0.6" fill="#bfbebf"/>
<rect x="382.7" y="253.9" width="1.4" height="2.4" rx="0.6" fill="#bfbebf"/>
<rect x="393.7" y="175.6" width="1.4" height="2.4" rx="0.6" fill="#bfbebf"/>
<rect x="393.7" y="175.0" width="1.4" height="2.4" rx="0.6" fill="#bfbebf"/>
<rect x="357.7" y="187.3" width="1.4" height="2.4" rx="0.6" fill="#bfbebf"/>
<rect x="335.0" y="229.8" width="1.4" height="2.4" rx="0.6" fill="#bfbebf"/>
<rect x="331.0" y="232.8" width="1.4" height="2.4" rx="0.6" fill="#bfbebf"/>
<rect x="398.5" y="207.2" width="1.4" height="2.4" rx="0.6" fill="#bfbebf"/>
<rect x="401.5" y="209.6" width="1.4" height="2.4" rx="0.6" fill="#bfbebf"/>
<rect x="335.9" y="218.5" width="1.4" height="2.4" rx="0.6" fill="#bfbebf"/>
<rect x="409.8" y="196.8" width="1.4" height="2.4" rx="0.6" fill="#bfbebf"/>
<rect x="349.0" y="204.6" width="1.4" height="2.4" rx="0.6" fill="#bfbebf"/>
<rect x="404.0" y="188.4" width="1.4" height="2.4" rx="0.6" fill="#bfbebf"/>
<rect x="397.1" y="180.0" width="1.4" height="2.4" rx="0.6" fill="#bfbebf"/>
<rect x="401.6" y="193.7" width="1.4" height="2.4" rx="0.6" fill="#bfbebf"/>
<rect x="324.8" y="250.2" width="1.4" height="2.4" rx="0.6" fill="#bfbebf"/>
<rect x="380.2" y="246.5" width="1.4" height="2.4" rx="0.6" fill="#bfbebf"/>
<rect x="340.9" y="213.1" width="1.4" height="2.4" rx="0.6" fill="#bfbebf"/>
<rect x="350.3" y="199.9" width="1.4" height="2.4" rx="0.6" fill="#bfbebf"/>
<rect x="401.6" y="200.2" width="1.4" height="2.4" rx="0.6" fill="#bfbebf"/>
<rect x="382.4" y="243.6" width="1.4" height="2.4" rx="0.6" fill="#bfbebf"/>
<rect x="381.8" y="170.9" width="1.4" height="2.4" rx="0.6" fill="#bfbebf"/>
<rect x="327.8" y="247.5" width="1.4" height="2.4" rx="0.6" fill="#bfbebf"/>
<rect x="399.6" y="182.7" width="1.4" height="2.4" rx="0.6" fill="#bfbebf"/>
<rect x="393.7" y="229.8" width="1.4" height="2.4" rx="0.6" fill="#bfbebf"/>
<rect x="329.4" y="237.4" width="1.4" height="2.4" rx="0.6" fill="#bfbebf"/>
<rect x="396.7" y="219.9" width="1.4" height="2.4" rx="0.6" fill="#bfbebf"/>
<rect x="345.6" y="196.3" width="1.4" height="2.4" rx="0.6" fill="#bfbebf"/>
<rect x="354.2" y="186.1" width="1.4" height="2.4" rx="0.6" fill="#bfbebf"/>
<rect x="338.4" y="220.8" width="1.4" height="2.4" rx="0.6" fill="#bfbebf"/>
<rect x="320.1" y="262.5" width="1.4" height="2.4" rx="0.6" fill="#bfbebf"/>
<rect x="404.0" y="195.0" width="1.4" height="2.4" rx="0.6" fill="#bfbebf"/>
<rect x="380.3" y="249.3" width="1.4" height="2.4" rx="0.6" fill="#bfbebf"/>
<rect x="346.6" y="199.6" width="1.4" height="2.4" rx="0.6" fill="#bfbebf"/>
<rect x="396.4" y="216.2" width="1.4" height="2.4" rx="0.6" fill="#bfbebf"/>
<rect x="398.1" y="211.1" width="1.4" height="2.4" rx="0.6" fill="#bfbebf"/>
<rect x="399.1" y="176.3" width="1.4" height="2.4" rx="0.6" fill="#bfbebf"/>
<rect x="378.7" y="253.7" width="1.4" height="2.4" rx="0.6" fill="#bfbebf"/>
<rect x="319.3" y="256.2" width="1.4" height="2.4" rx="0.6" fill="#bfbebf"/>
<rect x="393.2" y="176.6" width="1.4" height="2.4" rx="0.6" fill="#bfbebf"/>
<rect x="395.2" y="178.1" width="1.4" height="2.4" rx="0.6" fill="#bfbebf"/>
<rect x="380.1" y="174.5" width="1.4" height="2.4" rx="0.6" fill="#bfbebf"/>
<rect x="346.8" y="207.9" width="1.4" height="2.4" rx="0.6" fill="#bfbebf"/>
<rect x="320.3" y="260.7" width="1.4" height="2.4" rx="0.6" fill="#bfbebf"/>
<rect x="389.8" y="231.9" width="1.4" height="2.4" rx="0.6" fill="#bfbebf"/>
<rect x="347.8" y="197.4" width="1.4" height="2.4" rx="0.6" fill="#bfbebf"/>
<rect x="362.3" y="174.6" width="1.4" height="2.4" rx="0.6" fill="#bfbebf"/>
<rect x="361.3" y="183.7" width="1.4" height="2.4" rx="0.6" fill="#bfbebf"/>
<rect x="366.3" y="180.1" width="1.4" height="2.4" rx="0.6" fill="#bfbebf"/>
<rect x="348.9" y="203.0" width="1.4" height="2.4" rx="0.6" fill="#bfbebf"/>
<rect x="400.6" y="204.7" width="1.4" height="2.4" rx="0.6" fill="#bfbebf"/>
<rect x="346.4" y="206.8" width="1.4" height="2.4" rx="0.6" fill="#bfbebf"/>
<rect x="396.1" y="221.5" width="1.4" height="2.4" rx="0.6" fill="#bfbebf"/>
<rect x="372.6" y="170.1" width="1.4" height="2.4" rx="0.6" fill="#bfbebf"/>
<rect x="334.4" y="229.2" width="1.4" height="2.4" rx="0.6" fill="#bfbebf"/>
<rect x="351.8" y="197.2" width="1.4" height="2.4" rx="0.6" fill="#bfbebf"/>
<rect x="337.6" y="219.1" width="1.4" height="2.4" rx="0.6" fill="#bfbebf"/>
<rect x="398.5" y="214.5" width="1.4" height="2.4" rx="0.6" fill="#bfbebf"/>
<rect x="350.5" y="201.1" width="1.4" height="2.4" rx="0.6" fill="#bfbebf"/>
<rect x="402.6" y="204.1" width="1.4" height="2.4" rx="0.6" fill="#bfbebf"/>
<rect x="403.7" y="200.6" width="1.4" height="2.4" rx="0.6" fill="#bfbebf"/>
<rect x="351.7" y="190.2" width="1.4" height="2.4" rx="0.6" fill="#bfbebf"/>
<rect x="320.2" y="259.0" width="1.4" height="2.4" rx="0.6" fill="#bfbebf"/>
<rect x="392.9" y="228.9" width="1.4" height="2.4" rx="0.6" fill="#bfbebf"/>
<rect x="383.3" y="175.6" width="1.4" height="2.4" rx="0.6" fill="#bfbebf"/>
<rect x="343.9" y="212.6" width="1.4" height="2.4" rx="0.6" fill="#bfbebf"/>
<rect x="327.1" y="236.5" width="1.4" height="2.4" rx="0.6" fill="#bfbebf"/>
<rect x="348.4" y="203.6" width="1.4" height="2.4" rx="0.6" fill="#bfbebf"/>
<rect x="397.1" y="214.6" width="1.4" height="2.4" rx="0.6" fill="#bfbebf"/>
<rect x="397.7" y="211.2" width="1.4" height="2.4" rx="0.6" fill="#bfbebf"/>
<rect x="388.4" y="235.0" width="1.4" height="2.4" rx="0.6" fill="#bfbebf"/>
<rect x="327.9" y="237.7" width="1.4" height="2.4" rx="0.6" fill="#bfbebf"/>
<rect x="405.2" y="193.7" width="1.4" height="2.4" rx="0.6" fill="#bfbebf"/>
<rect x="398.7" y="209.5" width="1.4" height="2.4" rx="0.6" fill="#bfbebf"/>
<rect x="374.1" y="176.6" width="1.4" height="2.4" rx="0.6" fill="#bfbebf"/>
<rect x="341.2" y="214.6" width="1.4" height="2.4" rx="0.6" fill="#bfbebf"/>
<rect x="339.5" y="217.3" width="1.4" height="2.4" rx="0.6" fill="#bfbebf"/>
<rect x="324.3" y="252.3" width="1.4" height="2.4" rx="0.6" fill="#bfbebf"/>
<rect x="376.2" y="257.0" width="1.4" height="2.4" rx="0.6" fill="#bfbebf"/>
<rect x="406.6" y="200.0" width="1.4" height="2.4" rx="0.6" fill="#bfbebf"/>
<rect x="391.0" y="231.1" width="1.4" height="2.4" rx="0.6" fill="#bfbebf"/>
<rect x="375.1" y="259.3" width="1.4" height="2.4" rx="0.6" fill="#bfbebf"/>
<rect x="392.1" y="227.5" width="1.4" height="2.4" rx="0.6" fill="#bfbebf"/>
<rect x="377.0" y="261.7" width="1.4" height="2.4" rx="0.6" fill="#bfbebf"/>
<rect x="329.6" y="237.1" width="1.4" height="2.4" rx="0.6" fill="#bfbebf"/>
<rect x="390.7" y="231.8" width="1.4" height="2.4" rx="0.6" fill="#bfbebf"/>
<rect x="351.6" y="197.7" width="1.4" height="2.4" rx="0.6" fill="#bfbebf"/>
<rect x="376.4" y="257.2" width="1.4" height="2.4" rx="0.6" fill="#bfbebf"/>
<rect x="379.5" y="252.0" width="1.4" height="2.4" rx="0.6" fill="#bfbebf"/>
<rect x="388.7" y="231.9" width="1.4" height="2.4" rx="0.6" fill="#bfbebf"/>
<rect x="381.8" y="247.3" width="1.4" height="2.4" rx="0.6" fill="#bfbebf"/>
<rect x="377.0" y="176.1" width="1.4" height="2.4" rx="0.6" fill="#bfbebf"/>
<rect x="404.5" y="205.1" width="1.4" height="2.4" rx="0.6" fill="#bfbebf"/>
<rect x="402.8" y="195.7" width="1.4" height="2.4" rx="0.6" fill="#bfbebf"/>
<rect x="342.9" y="214.9" width="1.4" height="2.4" rx="0.6" fill="#bfbebf"/>
<rect x="378.1" y="260.8" width="1.4" height="2.4" rx="0.6" fill="#bfbebf"/>
<rect x="343.2" y="212.1" width="1.4" height="2.4" rx="0.6" fill="#bfbebf"/>
<rect x="398.3" y="179.6" width="1.4" height="2.4" rx="0.6" fill="#bfbebf"/>
<rect x="316.6" y="245.9" width="1.4" height="2.4" rx="0.6" fill="#bfbebf"/>
<rect x="317.0" y="247.9" width="1.4" height="2.4" rx="0.6" fill="#bfbebf"/>
<rect x="328.1" y="244.4" width="1.4" height="2.4" rx="0.6" fill="#bfbebf"/>
<rect x="333.0" y="228.6" width="1.4" height="2.4" rx="0.6" fill="#bfbebf"/>
<rect x="322.3" y="240.8" width="1.4" height="2.4" rx="0.6" fill="#bfbebf"/>
<rect x="315.1" y="251.8" width="1.4" height="2.4" rx="0.6" fill="#bfbebf"/>
<rect x="319.9" y="246.0" width="1.4" height="2.4" rx="0.6" fill="#bfbebf"/>
<rect x="317.2" y="263.2" width="1.4" height="2.4" rx="0.6" fill="#bfbebf"/>
<rect x="329.2" y="242.8" width="1.4" height="2.4" rx="0.6" fill="#bfbebf"/>
<rect x="325.9" y="247.0" width="1.4" height="2.4" rx="0.6" fill="#bfbebf"/>
<rect x="332.7" y="227.3" width="1.4" height="2.4" rx="0.6" fill="#bfbebf"/>
<rect x="316.2" y="258.0" width="1.4" height="2.4" rx="0.6" fill="#bfbebf"/>
<rect x="326.5" y="246.0" width="1.4" height="2.4" rx="0.6" fill="#bfbebf"/>
<rect x="322.1" y="240.4" width="1.4" height="2.4" rx="0.6" fill="#bfbebf"/>
<rect x="327.8" y="236.9" width="1.4" height="2.4" rx="0.6" fill="#bfbebf"/>
<rect x="325.7" y="247.0" width="1.4" height="2.4" rx="0.6" fill="#bfbebf"/>
<rect x="330.7" y="239.7" width="1.4" height="2.4" rx="0.6" fill="#bfbebf"/>
<rect x="330.8" y="239.8" width="1.4" height="2.4" rx="0.6" fill="#bfbebf"/>
<rect x="329.6" y="227.9" width="1.4" height="2.4" rx="0.6" fill="#bfbebf"/>
<rect x="331.5" y="227.2" width="1.4" height="2.4" rx="0.6" fill="#bfbebf"/>
<rect x="325.7" y="239.9" width="1.4" height="2.4" rx="0.6" fill="#bfbebf"/>
<rect x="327.7" y="247.0" width="1.4" height="2.4" rx="0.6" fill="#bfbebf"/>
<rect x="326.3" y="248.9" width="1.4" height="2.4" rx="0.6" fill="#bfbebf"/>
<rect x="327.2" y="248.4" width="1.4" height="2.4" rx="0.6" fill="#bfbebf"/>
<rect x="318.1" y="243.8" width="1.4" height="2.4" rx="0.6" fill="#bfbebf"/>
<rect x="327.5" y="232.6" width="1.4" height="2.4" rx="0.6" fill="#bfbebf"/>
<rect x="331.2" y="227.5" width="1.4" height="2.4" rx="0.6" fill="#bfbebf"/>
<rect x="330.1" y="229.0" width="1.4" height="2.4" rx="0.6" fill="#bfbebf"/>
<rect x="334.3" y="227.0" width="1.4" height="2.4" rx="0.6" fill="#bfbebf"/>
<rect x="323.4" y="256.5" width="1.4" height="2.4" rx="0.6" fill="#bfbebf"/>
<rect x="327.1" y="243.3" width="1.4" height="2.4" rx="0.6" fill="#bfbebf"/>
<rect x="318.0" y="256.6" width="1.4" height="2.4" rx="0.6" fill="#bfbebf"/>
<rect x="311.7" y="259.1" width="1.4" height="2.4" rx="0.6" fill="#bfbebf"/>
<rect x="331.9" y="232.2" width="1.4" height="2.4" rx="0.6" fill="#bfbebf"/>
<rect x="323.4" y="236.4" width="1.4" height="2.4" rx="0.6" fill="#bfbebf"/>
<rect x="316.8" y="262.5" width="1.4" height="2.4" rx="0.6" fill="#bfbebf"/>
<rect x="324.9" y="248.5" width="1.4" height="2.4" rx="0.6" fill="#bfbebf"/>
<rect x="317.9" y="262.8" width="1.4" height="2.4" rx="0.6" fill="#bfbebf"/>
<rect x="330.9" y="238.0" width="1.4" height="2.4" rx="0.6" fill="#bfbebf"/>
<rect x="330.9" y="233.0" width="1.4" height="2.4" rx="0.6" fill="#bfbebf"/>
<rect x="325.9" y="242.0" width="1.4" height="2.4" rx="0.6" fill="#bfbebf"/>
<rect x="322.7" y="236.3" width="1.4" height="2.4" rx="0.6" fill="#bfbebf"/>
<rect x="320.1" y="242.1" width="1.4" height="2.4" rx="0.6" fill="#bfbebf"/>
<rect x="311.2" y="263.2" width="1.4" height="2.4" rx="0.6" fill="#bfbebf"/>
<rect x="324.6" y="252.5" width="1.4" height="2.4" rx="0.6" fill="#bfbebf"/>
<rect x="330.7" y="239.1" width="1.4" height="2.4" rx="0.6" fill="#bfbebf"/>
<rect x="320.4" y="257.2" width="1.4" height="2.4" rx="0.6" fill="#bfbebf"/>
<rect x="317.2" y="259.7" width="1.4" height="2.4" rx="0.6" fill="#bfbebf"/>
<rect x="329.4" y="231.8" width="1.4" height="2.4" rx="0.6" fill="#bfbebf"/>
<rect x="322.9" y="256.9" width="1.4" height="2.4" rx="0.6" fill="#bfbebf"/>
<rect x="327.2" y="236.6" width="1.4" height="2.4" rx="0.6" fill="#bfbebf"/>
<rect x="316.2" y="258.0" width="1.4" height="2.4" rx="0.6" fill="#bfbebf"/>
<rect x="315.0" y="248.1" width="1.4" height="2.4" rx="0.6" fill="#bfbebf"/>
<rect x="331.2" y="230.8" width="1.4" height="2.4" rx="0.6" fill="#bfbebf"/>
<rect x="325.7" y="240.3" width="1.4" height="2.4" rx="0.6" fill="#bfbebf"/>
<rect x="327.6" y="246.9" width="1.4" height="2.4" rx="0.6" fill="#bfbebf"/>
<rect x="321.9" y="252.0" width="1.4" height="2.4" rx="0.6" fill="#bfbebf"/>
<rect x="320.6" y="254.7" width="1.4" height="2.4" rx="0.6" fill="#bfbebf"/>
<rect x="329.7" y="243.0" width="1.4" height="2.4" rx="0.6" fill="#bfbebf"/>
<rect x="325.4" y="249.0" width="1.4" height="2.4" rx="0.6" fill="#bfbebf"/>
<rect x="332.7" y="228.1" width="1.4" height="2.4" rx="0.6" fill="#bfbebf"/>
<rect x="330.8" y="232.8" width="1.4" height="2.4" rx="0.6" fill="#bfbebf"/>
<rect x="322.4" y="254.1" width="1.4" height="2.4" rx="0.6" fill="#bfbebf"/>
<rect x="329.2" y="229.2" width="1.4" height="2.4" rx="0.6" fill="#bfbebf"/>
<rect x="324.3" y="251.0" width="1.4" height="2.4" rx="0.6" fill="#bfbebf"/>
<rect x="324.9" y="252.9" width="1.4" height="2.4" rx="0.6" fill="#bfbebf"/>
<rect x="327.8" y="242.1" width="1.4" height="2.4" rx="0.6" fill="#bfbebf"/>
<rect x="317.7" y="257.7" width="1.4" height="2.4" rx="0.6" fill="#bfbebf"/>
<rect x="327.9" y="229.4" width="1.4" height="2.4" rx="0.6" fill="#bfbebf"/>
<rect x="331.8" y="228.3" width="1.4" height="2.4" rx="0.6" fill="#bfbebf"/>
<rect x="332.2" y="235.1" width="1.4" height="2.4" rx="0.6" fill="#bfbebf"/>
<rect x="323.3" y="255.0" width="1.4" height="2.4" rx="0.6" fill="#bfbebf"/>
<rect x="323.2" y="251.1" width="1.4" height="2.4" rx="0.6" fill="#bfbebf"/>
<rect x="317.8" y="262.8" width="1.4" height="2.4" rx="0.6" fill="#bfbebf"/>
<rect x="317.0" y="259.6" width="1.4" height="2.4" rx="0.6" fill="#bfbebf"/>
<rect x="326.8" y="239.5" width="1.4" height="2.4" rx="0.6" fill="#bfbebf"/>
<rect x="330.2" y="240.6" width="1.4" height="2.4" rx="0.6" fill="#bfbebf"/>
<rect x="325.7" y="250.9" width="1.4" height="2.4" rx="0.6" fill="#bfbebf"/>
<rect x="332.8" y="227.9" width="1.4" height="2.4" rx="0.6" fill="#bfbebf"/>
<rect x="329.8" y="235.0" width="1.4" height="2.4" rx="0.6" fill="#bfbebf"/>
<rect x="332.2" y="234.1" width="1.4" height="2.4" rx="0.6" fill="#bfbebf"/>
<rect x="313.0" y="257.3" width="1.4" height="2.4" rx="0.6" fill="#bfbebf"/>
<rect x="331.8" y="227.5" width="1.4" height="2.4" rx="0.6" fill="#bfbebf"/>
<rect x="322.1" y="243.3" width="1.4" height="2.4" rx="0.6" fill="#bfbebf"/>
<rect x="328.8" y="242.6" width="1.4" height="2.4" rx="0.6" fill="#bfbebf"/>
<rect x="332.7" y="231.7" width="1.4" height="2.4" rx="0.6" fill="#bfbebf"/>
<rect x="324.3" y="234.1" width="1.4" height="2.4" rx="0.6" fill="#bfbebf"/>
<rect x="310.9" y="260.1" width="1.4" height="2.4" rx="0.6" fill="#bfbebf"/>
<rect x="320.1" y="255.8" width="1.4" height="2.4" rx="0.6" fill="#bfbebf"/>
<rect x="329.1" y="232.3" width="1.4" height="2.4" rx="0.6" fill="#bfbebf"/>
<rect x="317.9" y="256.4" width="1.4" height="2.4" rx="0.6" fill="#bfbebf"/>
<rect x="313.9" y="260.5" width="1.4" height="2.4" rx="0.6" fill="#bfbebf"/>
<rect x="322.7" y="238.0" width="1.4" height="2.4" rx="0.6" fill="#bfbebf"/>
<rect x="312.3" y="254.3" width="1.4" height="2.4" rx="0.6" fill="#bfbebf"/>
<rect x="325.0" y="233.3" width="1.4" height="2.4" rx="0.6" fill="#bfbebf"/>
<rect x="321.1" y="259.6" width="1.4" height="2.4" rx="0.6" fill="#bfbebf"/>
<rect x="326.3" y="244.3" width="1.4" height="2.4" rx="0.6" fill="#bfbebf"/>
<rect x="329.0" y="233.5" width="1.4" height="2.4" rx="0.6" fill="#bfbebf"/>
<rect x="326.8" y="244.2" width="1.4" height="2.4" rx="0.6" fill="#bfbebf"/>
<rect x="320.2" y="240.5" width="1.4" height="2.4" rx="0.6" fill="#bfbebf"/>
<rect x="323.0" y="251.1" width="1.4" height="2.4" rx="0.6" fill="#bfbebf"/>
<rect x="334.4" y="225.3" width="1.4" height="2.4" rx="0.6" fill="#bfbebf"/>
<rect x="326.3" y="238.9" width="1.4" height="2.4" rx="0.6" fill="#bfbebf"/>
<rect x="325.0" y="252.6" width="1.4" height="2.4" rx="0.6" fill="#bfbebf"/>
<rect x="325.1" y="232.6" width="1.4" height="2.4" rx="0.6" fill="#bfbebf"/>
<rect x="333.0" y="231.8" width="1.4" height="2.4" rx="0.6" fill="#bfbebf"/>
<rect x="323.7" y="251.2" width="1.4" height="2.4" rx="0.6" fill="#bfbebf"/>
<rect x="324.3" y="253.1" width="1.4" height="2.4" rx="0.6" fill="#bfbebf"/>
<rect x="317.2" y="262.0" width="1.4" height="2.4" rx="0.6" fill="#bfbebf"/>
<rect x="332.2" y="229.2" width="1.4" height="2.4" rx="0.6" fill="#bfbebf"/>
<rect x="329.0" y="241.2" width="1.4" height="2.4" rx="0.6" fill="#bfbebf"/>
<rect x="315.7" y="255.9" width="1.4" height="2.4" rx="0.6" fill="#bfbebf"/>
<rect x="321.4" y="258.7" width="1.4" height="2.4" rx="0.6" fill="#bfbebf"/>
<rect x="333.1" y="230.4" width="1.4" height="2.4" rx="0.6" fill="#bfbebf"/>
<rect x="324.0" y="240.2" width="1.4" height="2.4" rx="0.6" fill="#bfbebf"/>
<rect x="321.5" y="255.3" width="1.4" height="2.4" rx="0.6" fill="#bfbebf"/>
<rect x="315.7" y="256.8" width="1.4" height="2.4" rx="0.6" fill="#bfbebf"/>
<rect x="316.3" y="252.2" width="1.4" height="2.4" rx="0.6" fill="#bfbebf"/>
<rect x="320.1" y="254.5" width="1.4" height="2.4" rx="0.6" fill="#bfbebf"/>
<rect x="323.6" y="246.8" width="1.4" height="2.4" rx="0.6" fill="#bfbebf"/>
<rect x="315.9" y="247.3" width="1.4" height="2.4" rx="0.6" fill="#bfbebf"/>
<rect x="323.8" y="244.2" width="1.4" height="2.4" rx="0.6" fill="#bfbebf"/>
<rect x="318.6" y="262.5" width="1.4" height="2.4" rx="0.6" fill="#bfbebf"/>
<rect x="324.0" y="247.9" width="1.4" height="2.4" rx="0.6" fill="#bfbebf"/>
<rect x="320.2" y="261.5" width="1.4" height="2.4" rx="0.6" fill="#bfbebf"/>
<rect x="317.5" y="254.4" width="1.4" height="2.4" rx="0.6" fill="#bfbebf"/>
<rect x="330.3" y="231.8" width="1.4" height="2.4" rx="0.6" fill="#bfbebf"/>
<rect x="312.0" y="260.2" width="1.4" height="2.4" rx="0.6" fill="#bfbebf"/>
<rect x="326.9" y="240.9" width="1.4" height="2.4" rx="0.6" fill="#bfbebf"/>
<rect x="327.4" y="238.7" width="1.4" height="2.4" rx="0.6" fill="#bfbebf"/>
<rect x="331.7" y="236.2" width="1.4" height="2.4" rx="0.6" fill="#bfbebf"/>
<rect x="319.7" y="251.2" width="1.4" height="2.4" rx="0.6" fill="#bfbebf"/>
<rect x="320.8" y="261.9" width="1.4" height="2.4" rx="0.6" fill="#bfbebf"/>
<rect x="320.7" y="254.0" width="1.4" height="2.4" rx="0.6" fill="#bfbebf"/>
<rect x="312.7" y="257.7" width="1.4" height="2.4" rx="0.6" fill="#bfbebf"/>
<rect x="315.3" y="256.1" width="1.4" height="2.4" rx="0.6" fill="#bfbebf"/>
<rect x="312.4" y="262.1" width="1.4" height="2.4" rx="0.6" fill="#bfbebf"/>
<rect x="322.2" y="255.6" width="1.4" height="2.4" rx="0.6" fill="#bfbebf"/>
<rect x="326.5" y="248.6" width="1.4" height="2.4" rx="0.6" fill="#bfbebf"/>
<rect x="316.5" y="247.8" width="1.4" height="2.4" rx="0.6" fill="#bfbebf"/>
<rect x="317.7" y="245.1" width="1.4" height="2.4" rx="0.6" fill="#bfbebf"/>
<rect x="320.8" y="253.9" width="1.4" height="2.4" rx="0.6" fill="#bfbebf"/>
<rect x="312.9" y="255.1" width="1.4" height="2.4" rx="0.6" fill="#bfbebf"/>
<rect x="333.2" y="227.9" width="1.4" height="2.4" rx="0.6" fill="#bfbebf"/>
<rect x="327.2" y="244.2" width="1.4" height="2.4" rx="0.6" fill="#bfbebf"/>
<rect x="327.0" y="235.3" width="1.4" height="2.4" rx="0.6" fill="#bfbebf"/>
<rect x="321.5" y="255.9" width="1.4" height="2.4" rx="0.6" fill="#bfbebf"/>
<rect x="326.0" y="245.2" width="1.4" height="2.4" rx="0.6" fill="#bfbebf"/>
<rect x="317.6" y="248.9" width="1.4" height="2.4" rx="0.6" fill="#bfbebf"/>
<rect x="313.4" y="259.5" width="1.4" height="2.4" rx="0.6" fill="#bfbebf"/>
<rect x="325.1" y="237.5" width="1.4" height="2.4" rx="0.6" fill="#bfbebf"/>
<rect x="328.7" y="235.3" width="1.4" height="2.4" rx="0.6" fill="#bfbebf"/>
<rect x="312.6" y="255.1" width="1.4" height="2.4" rx="0.6" fill="#bfbebf"/>
<rect x="327.1" y="243.6" width="1.4" height="2.4" rx="0.6" fill="#bfbebf"/>
<rect x="321.0" y="241.6" width="1.4" height="2.4" rx="0.6" fill="#bfbebf"/>
<rect x="329.3" y="228.8" width="1.4" height="2.4" rx="0.6" fill="#bfbebf"/>
<rect x="331.7" y="235.7" width="1.4" height="2.4" rx="0.6" fill="#bfbebf"/>
<rect x="316.9" y="259.7" width="1.4" height="2.4" rx="0.6" fill="#bfbebf"/>
<rect x="324.8" y="252.0" width="1.4" height="2.4" rx="0.6" fill="#bfbebf"/>
<rect x="323.7" y="235.2" width="1.4" height="2.4" rx="0.6" fill="#bfbebf"/>
<rect x="388.2" y="246.4" width="1.4" height="2.4" rx="0.6" fill="#bfbebf"/>
<rect x="381.4" y="257.2" width="1.4" height="2.4" rx="0.6" fill="#bfbebf"/>
<rect x="385.3" y="250.3" width="1.4" height="2.4" rx="0.6" fill="#bfbebf"/>
<rect x="383.0" y="253.4" width="1.4" height="2.4" rx="0.6" fill="#bfbebf"/>
<rect x="385.9" y="245.6" width="1.4" height="2.4" rx="0.6" fill="#bfbebf"/>
<rect x="383.2" y="244.3" width="1.4" height="2.4" rx="0.6" fill="#bfbebf"/>
<rect x="391.5" y="238.2" width="1.4" height="2.4" rx="0.6" fill="#bfbebf"/>
<rect x="377.1" y="256.0" width="1.4" height="2.4" rx="0.6" fill="#bfbebf"/>
<rect x="386.9" y="237.3" width="1.4" height="2.4" rx="0.6" fill="#bfbebf"/>
<rect x="386.3" y="246.7" width="1.4" height="2.4" rx="0.6" fill="#bfbebf"/>
<rect x="386.5" y="253.2" width="1.4" height="2.4" rx="0.6" fill="#bfbebf"/>
<rect x="389.4" y="239.1" width="1.4" height="2.4" rx="0.6" fill="#bfbebf"/>
<rect x="383.9" y="241.9" width="1.4" height="2.4" rx="0.6" fill="#bfbebf"/>
<rect x="392.3" y="242.1" width="1.4" height="2.4" rx="0.6" fill="#bfbebf"/>
<rect x="382.4" y="247.5" width="1.4" height="2.4" rx="0.6" fill="#bfbebf"/>
<rect x="382.7" y="248.7" width="1.4" height="2.4" rx="0.6" fill="#bfbebf"/>
<rect x="387.2" y="243.9" width="1.4" height="2.4" rx="0.6" fill="#bfbebf"/>
<rect x="380.2" y="247.1" width="1.4" height="2.4" rx="0.6" fill="#bfbebf"/>
<rect x="377.2" y="257.7" width="1.4" height="2.4" rx="0.6" fill="#bfbebf"/>
<rect x="383.4" y="237.3" width="1.4" height="2.4" rx="0.6" fill="#bfbebf"/>
<rect x="381.1" y="244.6" width="1.4" height="2.4" rx="0.6" fill="#bfbebf"/>
<rect x="386.2" y="237.2" width="1.4" height="2.4" rx="0.6" fill="#bfbebf"/>
<rect x="381.8" y="240.9" width="1.4" height="2.4" rx="0.6" fill="#bfbebf"/>
<rect x="390.0" y="235.9" width="1.4" height="2.4" rx="0.6" fill="#bfbebf"/>
<rect x="383.5" y="241.7" width="1.4" height="2.4" rx="0.6" fill="#bfbebf"/>
<rect x="390.9" y="239.9" width="1.4" height="2.4" rx="0.6" fill="#bfbebf"/>
<rect x="380.7" y="250.9" width="1.4" height="2.4" rx="0.6" fill="#bfbebf"/>
<rect x="388.6" y="246.7" width="1.4" height="2.4" rx="0.6" fill="#bfbebf"/>
<rect x="377.6" y="257.5" width="1.4" height="2.4" rx="0.6" fill="#bfbebf"/>
<rect x="390.2" y="243.1" width="1.4" height="2.4" rx="0.6" fill="#bfbebf"/>
<rect x="387.8" y="245.7" width="1.4" height="2.4" rx="0.6" fill="#bfbebf"/>
<rect x="391.3" y="236.1" width="1.4" height="2.4" rx="0.6" fill="#bfbebf"/>
<rect x="387.2" y="245.5" width="1.4" height="2.4" rx="0.6" fill="#bfbebf"/>
<rect x="387.7" y="236.4" width="1.4" height="2.4" rx="0.6" fill="#bfbebf"/>
<rect x="378.9" y="260.0" width="1.4" height="2.4" rx="0.6" fill="#bfbebf"/>
<rect x="383.7" y="256.0" width="1.4" height="2.4" rx="0.6" fill="#bfbebf"/>
<rect x="390.4" y="247.3" width="1.4" height="2.4" rx="0.6" fill="#bfbebf"/>
<rect x="389.5" y="248.6" width="1.4" height="2.4" rx="0.6" fill="#bfbebf"/>
<rect x="389.4" y="238.9" width="1.4" height="2.4" rx="0.6" fill="#bfbebf"/>
<rect x="383.1" y="254.5" width="1.4" height="2.4" rx="0.6" fill="#bfbebf"/>
<rect x="388.8" y="242.2" width="1.4" height="2.4" rx="0.6" fill="#bfbebf"/>
<rect x="380.7" y="255.6" width="1.4" height="2.4" rx="0.6" fill="#bfbebf"/>
<rect x="384.4" y="249.6" width="1.4" height="2.4" rx="0.6" fill="#bfbebf"/>
<rect x="380.1" y="259.6" width="1.4" height="2.4" rx="0.6" fill="#bfbebf"/>
<rect x="387.3" y="242.8" width="1.4" height="2.4" rx="0.6" fill="#bfbebf"/>
<rect x="392.9" y="239.0" width="1.4" height="2.4" rx="0.6" fill="#bfbebf"/>
<rect x="390.1" y="243.0" width="1.4" height="2.4" rx="0.6" fill="#bfbebf"/>
<rect x="381.6" y="254.1" width="1.4" height="2.4" rx="0.6" fill="#bfbebf"/>
<rect x="386.0" y="252.9" width="1.4" height="2.4" rx="0.6" fill="#bfbebf"/>
<rect x="380.5" y="248.7" width="1.4" height="2.4" rx="0.6" fill="#bfbebf"/>
<rect x="386.4" y="237.0" width="1.4" height="2.4" rx="0.6" fill="#bfbebf"/>
<rect x="381.7" y="255.1" width="1.4" height="2.4" rx="0.6" fill="#bfbebf"/>
<rect x="382.5" y="250.0" width="1.4" height="2.4" rx="0.6" fill="#bfbebf"/>
<rect x="382.0" y="244.5" width="1.4" height="2.4" rx="0.6" fill="#bfbebf"/>
<rect x="385.1" y="249.3" width="1.4" height="2.4" rx="0.6" fill="#bfbebf"/>
<rect x="380.0" y="251.8" width="1.4" height="2.4" rx="0.6" fill="#bfbebf"/>
<rect x="389.3" y="234.2" width="1.4" height="2.4" rx="0.6" fill="#bfbebf"/>
<rect x="389.5" y="237.7" width="1.4" height="2.4" rx="0.6" fill="#bfbebf"/>
<rect x="385.4" y="240.5" width="1.4" height="2.4" rx="0.6" fill="#bfbebf"/>
<rect x="386.6" y="238.4" width="1.4" height="2.4" rx="0.6" fill="#bfbebf"/>
<rect x="382.1" y="175.8" width="1.2" height="2.2" rx="0.6" fill="#bfbebf"/>
<rect x="383.2" y="163.8" width="1.2" height="2.2" rx="0.6" fill="#bfbebf"/>
<rect x="380.5" y="167.8" width="1.2" height="2.2" rx="0.6" fill="#bfbebf"/>
<rect x="387.6" y="171.2" width="1.2" height="2.2" rx="0.6" fill="#bfbebf"/>
<rect x="385.7" y="164.3" width="1.2" height="2.2" rx="0.6" fill="#bfbebf"/>
<rect x="383.0" y="165.6" width="1.2" height="2.2" rx="0.6" fill="#bfbebf"/>
<rect x="382.6" y="167.0" width="1.2" height="2.2" rx="0.6" fill="#bfbebf"/>
<rect x="396.2" y="175.2" width="1.2" height="2.2" rx="0.6" fill="#bfbebf"/>
<rect x="395.2" y="166.7" width="1.2" height="2.2" rx="0.6" fill="#bfbebf"/>
<rect x="385.8" y="176.1" width="1.2" height="2.2" rx="0.6" fill="#bfbebf"/>
<rect x="387.8" y="166.4" width="1.2" height="2.2" rx="0.6" fill="#bfbebf"/>
<rect x="384.4" y="173.0" width="1.2" height="2.2" rx="0.6" fill="#bfbebf"/>
<rect x="392.8" y="176.6" width="1.2" height="2.2" rx="0.6" fill="#bfbebf"/>
<rect x="386.4" y="176.0" width="1.2" height="2.2" rx="0.6" fill="#bfbebf"/>
<rect x="395.6" y="172.0" width="1.2" height="2.2" rx="0.6" fill="#bfbebf"/>
<rect x="396.0" y="165.0" width="1.2" height="2.2" rx="0.6" fill="#bfbebf"/>
<rect x="388.3" y="166.2" width="1.2" height="2.2" rx="0.6" fill="#bfbebf"/>
<rect x="380.8" y="169.1" width="1.2" height="2.2" rx="0.6" fill="#bfbebf"/>
<rect x="395.8" y="166.1" width="1.2" height="2.2" rx="0.6" fill="#bfbebf"/>
<rect x="383.8" y="171.9" width="1.2" height="2.2" rx="0.6" fill="#bfbebf"/>
<rect x="394.3" y="177.4" width="1.2" height="2.2" rx="0.6" fill="#bfbebf"/>
<rect x="380.1" y="166.6" width="1.2" height="2.2" rx="0.6" fill="#bfbebf"/>
<rect x="390.7" y="164.3" width="1.2" height="2.2" rx="0.6" fill="#bfbebf"/>
<rect x="392.4" y="176.8" width="1.2" height="2.2" rx="0.6" fill="#bfbebf"/>
<rect x="379.6" y="175.2" width="1.2" height="2.2" rx="0.6" fill="#bfbebf"/>
<rect x="396.0" y="169.9" width="1.2" height="2.2" rx="0.6" fill="#bfbebf"/>
<rect x="382.6" y="166.0" width="1.2" height="2.2" rx="0.6" fill="#bfbebf"/>
<rect x="382.1" y="172.2" width="1.2" height="2.2" rx="0.6" fill="#bfbebf"/>
<rect x="385.6" y="168.4" width="1.2" height="2.2" rx="0.6" fill="#bfbebf"/>
<rect x="390.5" y="169.4" width="1.2" height="2.2" rx="0.6" fill="#bfbebf"/>
<rect x="384.2" y="174.5" width="1.2" height="2.2" rx="0.6" fill="#bfbebf"/>
<rect x="388.8" y="168.1" width="1.2" height="2.2" rx="0.6" fill="#bfbebf"/>
<rect x="386.6" y="163.8" width="1.2" height="2.2" rx="0.6" fill="#bfbebf"/>
<rect x="389.0" y="170.7" width="1.2" height="2.2" rx="0.6" fill="#bfbebf"/>
<rect x="386.4" y="177.6" width="1.2" height="2.2" rx="0.6" fill="#bfbebf"/>
<rect x="390.6" y="173.8" width="1.2" height="2.2" rx="0.6" fill="#bfbebf"/>
<rect x="394.1" y="167.7" width="1.2" height="2.2" rx="0.6" fill="#bfbebf"/>
<rect x="397.1" y="171.7" width="1.2" height="2.2" rx="0.6" fill="#bfbebf"/>
<rect x="389.5" y="170.5" width="1.2" height="2.2" rx="0.6" fill="#bfbebf"/>
<rect x="388.3" y="163.3" width="1.2" height="2.2" rx="0.6" fill="#bfbebf"/>
<rect x="387.5" y="167.7" width="1.2" height="2.2" rx="0.6" fill="#bfbebf"/>
<rect x="379.7" y="173.4" width="1.2" height="2.2" rx="0.6" fill="#bfbebf"/>
<rect x="392.5" y="169.3" width="1.2" height="2.2" rx="0.6" fill="#bfbebf"/>
<rect x="381.5" y="168.3" width="1.2" height="2.2" rx="0.6" fill="#bfbebf"/>
<rect x="384.7" y="173.1" width="1.2" height="2.2" rx="0.6" fill="#bfbebf"/>
<rect x="390.6" y="162.8" width="1.2" height="2.2" rx="0.6" fill="#bfbebf"/>
<rect x="393.1" y="177.0" width="1.2" height="2.2" rx="0.6" fill="#bfbebf"/>
<rect x="383.7" y="168.4" width="1.2" height="2.2" rx="0.6" fill="#bfbebf"/>
<rect x="384.2" y="169.4" width="1.2" height="2.2" rx="0.6" fill="#bfbebf"/>
<rect x="391.7" y="175.9" width="1.2" height="2.2" rx="0.6" fill="#bfbebf"/>
<rect x="391.7" y="172.4" width="1.2" height="2.2" rx="0.6" fill="#bfbebf"/>
<rect x="390.7" y="174.9" width="1.2" height="2.2" rx="0.6" fill="#bfbebf"/>
<rect x="389.5" y="161.4" width="1.2" height="2.2" rx="0.6" fill="#bfbebf"/>
<rect x="388.9" y="163.2" width="1.2" height="2.2" rx="0.6" fill="#bfbebf"/>
<rect x="391.4" y="177.4" width="1.2" height="2.2" rx="0.6" fill="#bfbebf"/>
<rect x="382.9" y="169.4" width="1.2" height="2.2" rx="0.6" fill="#bfbebf"/>
<rect x="385.0" y="163.5" width="1.2" height="2.2" rx="0.6" fill="#bfbebf"/>
<rect x="388.4" y="176.7" width="1.2" height="2.2" rx="0.6" fill="#bfbebf"/>
<rect x="389.2" y="174.5" width="1.2" height="2.2" rx="0.6" fill="#bfbebf"/>
<rect x="394.1" y="173.9" width="1.2" height="2.2" rx="0.6" fill="#bfbebf"/>
<rect x="382.1" y="176.0" width="1.2" height="2.2" rx="0.6" fill="#bfbebf"/>
<rect x="381.2" y="174.6" width="1.2" height="2.2" rx="0.6" fill="#bfbebf"/>
<rect x="392.1" y="175.4" width="1.2" height="2.2" rx="0.6" fill="#bfbebf"/>
<rect x="384.3" y="172.3" width="1.2" height="2.2" rx="0.6" fill="#bfbebf"/>
<rect x="392.4" y="175.9" width="1.2" height="2.2" rx="0.6" fill="#bfbebf"/>
<rect x="394.8" y="174.6" width="1.2" height="2.2" rx="0.6" fill="#bfbebf"/>
<rect x="390.5" y="177.3" width="1.2" height="2.2" rx="0.6" fill="#bfbebf"/>
<rect x="390.2" y="160.9" width="1.2" height="2.2" rx="0.6" fill="#bfbebf"/>
<rect x="380.2" y="167.6" width="1.2" height="2.2" rx="0.6" fill="#bfbebf"/>
<rect x="383.2" y="166.1" width="1.2" height="2.2" rx="0.6" fill="#bfbebf"/>
<rect x="404.3" y="195.3" width="1.2" height="2.2" rx="0.6" fill="#bfbebf"/>
<rect x="400.9" y="170.8" width="1.2" height="2.2" rx="0.6" fill="#bfbebf"/>
<rect x="405.7" y="217.5" width="1.2" height="2.2" rx="0.6" fill="#bfbebf"/>
<rect x="408.0" y="181.0" width="1.2" height="2.2" rx="0.6" fill="#bfbebf"/>
<rect x="396.4" y="160.0" width="1.2" height="2.2" rx="0.6" fill="#bfbebf"/>
<rect x="407.0" y="204.8" width="1.2" height="2.2" rx="0.6" fill="#bfbebf"/>
<rect x="404.9" y="187.5" width="1.2" height="2.2" rx="0.6" fill="#bfbebf"/>
<rect x="406.9" y="205.4" width="1.2" height="2.2" rx="0.6" fill="#bfbebf"/>
<rect x="403.1" y="199.6" width="1.2" height="2.2" rx="0.6" fill="#bfbebf"/>
<rect x="394.2" y="161.6" width="1.2" height="2.2" rx="0.6" fill="#bfbebf"/>
<rect x="402.7" y="196.6" width="1.2" height="2.2" rx="0.6" fill="#bfbebf"/>
<rect x="406.6" y="172.5" width="1.2" height="2.2" rx="0.6" fill="#bfbebf"/>
<rect x="402.6" y="214.2" width="1.2" height="2.2" rx="0.6" fill="#bfbebf"/>
<rect x="400.4" y="176.7" width="1.2" height="2.2" rx="0.6" fill="#bfbebf"/>
<rect x="402.2" y="206.8" width="1.2" height="2.2" rx="0.6" fill="#bfbebf"/>
<rect x="405.7" y="193.0" width="1.2" height="2.2" rx="0.6" fill="#bfbebf"/>
<rect x="407.5" y="193.0" width="1.2" height="2.2" rx="0.6" fill="#bfbebf"/>
<rect x="412.0" y="191.6" width="1.2" height="2.2" rx="0.6" fill="#bfbebf"/>
<rect x="409.2" y="195.2" width="1.2" height="2.2" rx="0.6" fill="#bfbebf"/>
<rect x="410.0" y="188.9" width="1.2" height="2.2" rx="0.6" fill="#bfbebf"/>
<rect x="394.8" y="163.2" width="1.2" height="2.2" rx="0.6" fill="#bfbebf"/>
<rect x="408.9" y="209.9" width="1.2" height="2.2" rx="0.6" fill="#bfbebf"/>
<rect x="399.6" y="217.4" width="1.2" height="2.2" rx="0.6" fill="#bfbebf"/>
<rect x="410.6" y="191.8" width="1.2" height="2.2" rx="0.6" fill="#bfbebf"/>
<rect x="402.1" y="203.7" width="1.2" height="2.2" rx="0.6" fill="#bfbebf"/>
<rect x="405.9" y="213.4" width="1.2" height="2.2" rx="0.6" fill="#bfbebf"/>
<rect x="404.2" y="187.5" width="1.2" height="2.2" rx="0.6" fill="#bfbebf"/>
<rect x="408.0" y="174.7" width="1.2" height="2.2" rx="0.6" fill="#bfbebf"/>
<rect x="410.0" y="185.5" width="1.2" height="2.2" rx="0.6" fill="#bfbebf"/>
<rect x="411.6" y="195.4" width="1.2" height="2.2" rx="0.6" fill="#bfbebf"/>
<rect x="405.3" y="194.7" width="1.2" height="2.2" rx="0.6" fill="#bfbebf"/>
<rect x="406.5" y="218.3" width="1.2" height="2.2" rx="0.6" fill="#bfbebf"/>
<rect x="407.3" y="206.2" width="1.2" height="2.2" rx="0.6" fill="#bfbebf"/>
<rect x="401.7" y="167.3" width="1.2" height="2.2" rx="0.6" fill="#bfbebf"/>
<rect x="401.8" y="214.4" width="1.2" height="2.2" rx="0.6" fill="#bfbebf"/>
<rect x="404.4" y="219.7" width="1.2" height="2.2" rx="0.6" fill="#bfbebf"/>
<rect x="403.1" y="219.5" width="1.2" height="2.2" rx="0.6" fill="#bfbebf"/>
<rect x="408.5" y="179.2" width="1.2" height="2.2" rx="0.6" fill="#bfbebf"/>
<rect x="395.1" y="165.0" width="1.2" height="2.2" rx="0.6" fill="#bfbebf"/>
<rect x="405.9" y="173.6" width="1.2" height="2.2" rx="0.6" fill="#bfbebf"/>
<rect x="406.8" y="170.7" width="1.2" height="2.2" rx="0.6" fill="#bfbebf"/>
<rect x="397.3" y="158.7" width="1.2" height="2.2" rx="0.6" fill="#bfbebf"/>
<rect x="404.6" y="200.9" width="1.2" height="2.2" rx="0.6" fill="#bfbebf"/>
<rect x="396.0" y="161.1" width="1.2" height="2.2" rx="0.6" fill="#bfbebf"/>
<rect x="410.4" y="199.1" width="1.2" height="2.2" rx="0.6" fill="#bfbebf"/>
<rect x="432.7" y="125.4" width="1.2" height="2.2" rx="0.6" fill="#bfbebf"/>
<rect x="390.7" y="151.7" width="1.2" height="2.2" rx="0.6" fill="#bfbebf"/>
<rect x="397.7" y="155.4" width="1.2" height="2.2" rx="0.6" fill="#bfbebf"/>
<rect x="404.0" y="152.9" width="1.2" height="2.2" rx="0.6" fill="#bfbebf"/>
<rect x="406.1" y="159.2" width="1.2" height="2.2" rx="0.6" fill="#bfbebf"/>
<rect x="348.4" y="172.9" width="1.2" height="2.2" rx="0.6" fill="#bfbebf"/>
<rect x="412.4" y="166.9" width="1.2" height="2.2" rx="0.6" fill="#bfbebf"/>
<rect x="410.4" y="182.9" width="1.2" height="2.2" rx="0.6" fill="#bfbebf"/>
<rect x="405.4" y="206.9" width="1.2" height="2.2" rx="0.6" fill="#bfbebf"/>
<rect x="402.4" y="176.9" width="1.2" height="2.2" rx="0.6" fill="#bfbebf"/>
<rect x="383.4" y="155.9" width="1.2" height="2.2" rx="0.6" fill="#bfbebf"/>
<rect x="404.4" y="194.9" width="1.2" height="2.2" rx="0.6" fill="#bfbebf"/>
<rect x="394.4" y="242.9" width="1.2" height="2.2" rx="0.6" fill="#bfbebf"/>
<rect x="392.4" y="250.9" width="1.2" height="2.2" rx="0.6" fill="#bfbebf"/>
<polygon points="308,273.5 326.5,273.5 326.5,265.5 357.5,265.5 358.5,272 358.5,280 356,288 352,294 345,297 335,298 322,296 312,294 308,288 307,280" fill="#e81e27"/>
<rect x="331.2" y="290.7" width="1.2" height="1.9" rx="0.5" fill="#fff" fill-opacity="0.75"/>
<rect x="335.7" y="295.5" width="1.2" height="1.9" rx="0.5" fill="#fff" fill-opacity="0.75"/>
<rect x="327.5" y="289.2" width="1.2" height="1.9" rx="0.5" fill="#fff" fill-opacity="0.75"/>
<rect x="355.4" y="288.4" width="1.2" height="1.9" rx="0.5" fill="#fff" fill-opacity="0.75"/>
<rect x="312.4" y="283.2" width="1.2" height="1.9" rx="0.5" fill="#fff" fill-opacity="0.75"/>
<rect x="334.0" y="290.4" width="1.2" height="1.9" rx="0.5" fill="#fff" fill-opacity="0.75"/>
<rect x="326.3" y="296.3" width="1.2" height="1.9" rx="0.5" fill="#fff" fill-opacity="0.75"/>
<rect x="331.2" y="290.9" width="1.2" height="1.9" rx="0.5" fill="#fff" fill-opacity="0.75"/>
<rect x="315.2" y="280.1" width="1.2" height="1.9" rx="0.5" fill="#fff" fill-opacity="0.75"/>
<rect x="333.9" y="296.3" width="1.2" height="1.9" rx="0.5" fill="#fff" fill-opacity="0.75"/>
<rect x="328.2" y="284.4" width="1.2" height="1.9" rx="0.5" fill="#fff" fill-opacity="0.75"/>
<rect x="347.0" y="284.5" width="1.2" height="1.9" rx="0.5" fill="#fff" fill-opacity="0.75"/>
<rect x="329.6" y="280.8" width="1.2" height="1.9" rx="0.5" fill="#fff" fill-opacity="0.75"/>
<rect x="324.4" y="295.6" width="1.2" height="1.9" rx="0.5" fill="#fff" fill-opacity="0.75"/>
<rect x="333.9" y="289.7" width="1.2" height="1.9" rx="0.5" fill="#fff" fill-opacity="0.75"/>
<rect x="352.1" y="292.7" width="1.2" height="1.9" rx="0.5" fill="#fff" fill-opacity="0.75"/>
<rect x="357.0" y="277.4" width="1.2" height="1.9" rx="0.5" fill="#fff" fill-opacity="0.75"/>
<rect x="313.1" y="293.0" width="1.2" height="1.9" rx="0.5" fill="#fff" fill-opacity="0.75"/>
<rect x="332.2" y="293.6" width="1.2" height="1.9" rx="0.5" fill="#fff" fill-opacity="0.75"/>
<rect x="331.3" y="290.6" width="1.2" height="1.9" rx="0.5" fill="#fff" fill-opacity="0.75"/>
<rect x="353.7" y="286.3" width="1.2" height="1.9" rx="0.5" fill="#fff" fill-opacity="0.75"/>
<rect x="317.0" y="288.4" width="1.2" height="1.9" rx="0.5" fill="#fff" fill-opacity="0.75"/>
<rect x="327.1" y="270.7" width="1.2" height="1.9" rx="0.5" fill="#fff" fill-opacity="0.75"/>
<rect x="354.6" y="283.8" width="1.2" height="1.9" rx="0.5" fill="#fff" fill-opacity="0.75"/>
<rect x="308.2" y="286.8" width="1.2" height="1.9" rx="0.5" fill="#fff" fill-opacity="0.75"/>
<rect x="354.5" y="282.6" width="1.2" height="1.9" rx="0.5" fill="#fff" fill-opacity="0.75"/>
<rect x="338.4" y="288.7" width="1.2" height="1.9" rx="0.5" fill="#fff" fill-opacity="0.75"/>
<rect x="339.7" y="297.2" width="1.2" height="1.9" rx="0.5" fill="#fff" fill-opacity="0.75"/>
<rect x="328.0" y="279.9" width="1.2" height="1.9" rx="0.5" fill="#fff" fill-opacity="0.75"/>
<rect x="332.3" y="279.6" width="1.2" height="1.9" rx="0.5" fill="#fff" fill-opacity="0.75"/>
<rect x="349.2" y="273.1" width="1.2" height="1.9" rx="0.5" fill="#fff" fill-opacity="0.75"/>
<rect x="348.9" y="287.4" width="1.2" height="1.9" rx="0.5" fill="#fff" fill-opacity="0.75"/>
<rect x="314.1" y="292.0" width="1.2" height="1.9" rx="0.5" fill="#fff" fill-opacity="0.75"/>
<rect x="310.1" y="281.5" width="1.2" height="1.9" rx="0.5" fill="#fff" fill-opacity="0.75"/>
<rect x="317.7" y="287.2" width="1.2" height="1.9" rx="0.5" fill="#fff" fill-opacity="0.75"/>
<rect x="342.6" y="293.1" width="1.2" height="1.9" rx="0.5" fill="#fff" fill-opacity="0.75"/>
<rect x="314.4" y="284.9" width="1.2" height="1.9" rx="0.5" fill="#fff" fill-opacity="0.75"/>
<rect x="341.0" y="294.4" width="1.2" height="1.9" rx="0.5" fill="#fff" fill-opacity="0.75"/>
<rect x="318.7" y="287.7" width="1.2" height="1.9" rx="0.5" fill="#fff" fill-opacity="0.75"/>
<rect x="328.9" y="274.2" width="1.2" height="1.9" rx="0.5" fill="#fff" fill-opacity="0.75"/>
<rect x="338.6" y="288.7" width="1.2" height="1.9" rx="0.5" fill="#fff" fill-opacity="0.75"/>
<rect x="332.8" y="280.6" width="1.2" height="1.9" rx="0.5" fill="#fff" fill-opacity="0.75"/>
<rect x="316.8" y="284.8" width="1.2" height="1.9" rx="0.5" fill="#fff" fill-opacity="0.75"/>
<rect x="323.8" y="279.2" width="1.2" height="1.9" rx="0.5" fill="#fff" fill-opacity="0.75"/>
<rect x="335.2" y="277.3" width="1.2" height="1.9" rx="0.5" fill="#fff" fill-opacity="0.75"/>
<rect x="310.7" y="291.2" width="1.2" height="1.9" rx="0.5" fill="#fff" fill-opacity="0.75"/>
<rect x="333.3" y="280.9" width="1.2" height="1.9" rx="0.5" fill="#fff" fill-opacity="0.75"/>
<rect x="322.9" y="282.9" width="1.2" height="1.9" rx="0.5" fill="#fff" fill-opacity="0.75"/>
<rect x="354.8" y="271.8" width="1.2" height="1.9" rx="0.5" fill="#fff" fill-opacity="0.75"/>
<rect x="330.7" y="286.1" width="1.2" height="1.9" rx="0.5" fill="#fff" fill-opacity="0.75"/>
<rect x="335.6" y="286.0" width="1.2" height="1.9" rx="0.5" fill="#fff" fill-opacity="0.75"/>
<rect x="323.2" y="277.8" width="1.2" height="1.9" rx="0.5" fill="#fff" fill-opacity="0.75"/>
<rect x="313.7" y="283.2" width="1.2" height="1.9" rx="0.5" fill="#fff" fill-opacity="0.75"/>
<rect x="314.3" y="283.9" width="1.2" height="1.9" rx="0.5" fill="#fff" fill-opacity="0.75"/>
<rect x="334.0" y="291.2" width="1.2" height="1.9" rx="0.5" fill="#fff" fill-opacity="0.75"/>
<rect x="346.0" y="285.4" width="1.2" height="1.9" rx="0.5" fill="#fff" fill-opacity="0.75"/>
<rect x="323.6" y="276.0" width="1.2" height="1.9" rx="0.5" fill="#fff" fill-opacity="0.75"/>
<rect x="318.1" y="276.2" width="1.2" height="1.9" rx="0.5" fill="#fff" fill-opacity="0.75"/>
<rect x="346.7" y="296.0" width="1.2" height="1.9" rx="0.5" fill="#fff" fill-opacity="0.75"/>
<rect x="341.1" y="267.8" width="1.2" height="1.9" rx="0.5" fill="#fff" fill-opacity="0.75"/>
<rect x="329.4" y="292.2" width="1.2" height="1.9" rx="0.5" fill="#fff" fill-opacity="0.75"/>
<rect x="310.6" y="274.1" width="1.2" height="1.9" rx="0.5" fill="#fff" fill-opacity="0.75"/>
<rect x="325.8" y="293.6" width="1.2" height="1.9" rx="0.5" fill="#fff" fill-opacity="0.75"/>
<rect x="347.8" y="287.1" width="1.2" height="1.9" rx="0.5" fill="#fff" fill-opacity="0.75"/>
<rect x="319.4" y="288.7" width="1.2" height="1.9" rx="0.5" fill="#fff" fill-opacity="0.75"/>
<rect x="330.2" y="294.4" width="1.2" height="1.9" rx="0.5" fill="#fff" fill-opacity="0.75"/>
<rect x="318.7" y="283.2" width="1.2" height="1.9" rx="0.5" fill="#fff" fill-opacity="0.75"/>
<rect x="331.1" y="279.2" width="1.2" height="1.9" rx="0.5" fill="#fff" fill-opacity="0.75"/>
<rect x="326.7" y="278.4" width="1.2" height="1.9" rx="0.5" fill="#fff" fill-opacity="0.75"/>
<rect x="331.0" y="286.0" width="1.2" height="1.9" rx="0.5" fill="#fff" fill-opacity="0.75"/>
<rect x="313.8" y="287.2" width="1.2" height="1.9" rx="0.5" fill="#fff" fill-opacity="0.75"/>
<rect x="317.7" y="292.7" width="1.2" height="1.9" rx="0.5" fill="#fff" fill-opacity="0.75"/>
<rect x="330.1" y="294.6" width="1.2" height="1.9" rx="0.5" fill="#fff" fill-opacity="0.75"/>
<rect x="343.0" y="281.9" width="1.2" height="1.9" rx="0.5" fill="#fff" fill-opacity="0.75"/>
<rect x="354.7" y="289.2" width="1.2" height="1.9" rx="0.5" fill="#fff" fill-opacity="0.75"/>
<rect x="318.6" y="293.4" width="1.2" height="1.9" rx="0.5" fill="#fff" fill-opacity="0.75"/>
<rect x="344.3" y="283.7" width="1.2" height="1.9" rx="0.5" fill="#fff" fill-opacity="0.75"/>
<rect x="347.9" y="268.8" width="1.2" height="1.9" rx="0.5" fill="#fff" fill-opacity="0.75"/>
<rect x="314.0" y="291.0" width="1.2" height="1.9" rx="0.5" fill="#fff" fill-opacity="0.75"/>
<rect x="340.3" y="279.4" width="1.2" height="1.9" rx="0.5" fill="#fff" fill-opacity="0.75"/>
<rect x="345.4" y="276.4" width="1.2" height="1.9" rx="0.5" fill="#fff" fill-opacity="0.75"/>
<rect x="348.5" y="293.4" width="1.2" height="1.9" rx="0.5" fill="#fff" fill-opacity="0.75"/>
<rect x="332.0" y="278.0" width="1.2" height="1.9" rx="0.5" fill="#fff" fill-opacity="0.75"/>
<rect x="344.8" y="278.9" width="1.2" height="1.9" rx="0.5" fill="#fff" fill-opacity="0.75"/>
<rect x="321.7" y="283.7" width="1.2" height="1.9" rx="0.5" fill="#fff" fill-opacity="0.75"/>
<rect x="337.9" y="294.9" width="1.2" height="1.9" rx="0.5" fill="#fff" fill-opacity="0.75"/>
<rect x="357.2" y="274.7" width="1.2" height="1.9" rx="0.5" fill="#fff" fill-opacity="0.75"/>
<rect x="341.5" y="280.0" width="1.2" height="1.9" rx="0.5" fill="#fff" fill-opacity="0.75"/>
<rect x="308.0" y="283.4" width="1.2" height="1.9" rx="0.5" fill="#fff" fill-opacity="0.75"/>
<rect x="354.3" y="281.3" width="1.2" height="1.9" rx="0.5" fill="#fff" fill-opacity="0.75"/>
<rect x="348.6" y="274.8" width="1.2" height="1.9" rx="0.5" fill="#fff" fill-opacity="0.75"/>
<rect x="335.2" y="282.4" width="1.2" height="1.9" rx="0.5" fill="#fff" fill-opacity="0.75"/>
<rect x="336.6" y="282.4" width="1.2" height="1.9" rx="0.5" fill="#fff" fill-opacity="0.75"/>
<rect x="343.6" y="290.4" width="1.2" height="1.9" rx="0.5" fill="#fff" fill-opacity="0.75"/>
<rect x="345.9" y="295.5" width="1.2" height="1.9" rx="0.5" fill="#fff" fill-opacity="0.75"/>
<rect x="336.0" y="284.1" width="1.2" height="1.9" rx="0.5" fill="#fff" fill-opacity="0.75"/>
<rect x="321.7" y="293.6" width="1.2" height="1.9" rx="0.5" fill="#fff" fill-opacity="0.75"/>
<rect x="344.2" y="295.9" width="1.2" height="1.9" rx="0.5" fill="#fff" fill-opacity="0.75"/>
<rect x="344.3" y="292.8" width="1.2" height="1.9" rx="0.5" fill="#fff" fill-opacity="0.75"/>
<rect x="347.1" y="281.6" width="1.2" height="1.9" rx="0.5" fill="#fff" fill-opacity="0.75"/>
<rect x="329.7" y="293.1" width="1.2" height="1.9" rx="0.5" fill="#fff" fill-opacity="0.75"/>
<rect x="330.9" y="290.1" width="1.2" height="1.9" rx="0.5" fill="#fff" fill-opacity="0.75"/>
<rect x="311.5" y="279.0" width="1.2" height="1.9" rx="0.5" fill="#fff" fill-opacity="0.75"/>
<rect x="349.4" y="295.1" width="1.2" height="1.9" rx="0.5" fill="#fff" fill-opacity="0.75"/>
<rect x="353.1" y="274.2" width="1.2" height="1.9" rx="0.5" fill="#fff" fill-opacity="0.75"/>
<rect x="332.9" y="284.2" width="1.2" height="1.9" rx="0.5" fill="#fff" fill-opacity="0.75"/>
<rect x="352.1" y="266.8" width="1.2" height="1.9" rx="0.5" fill="#fff" fill-opacity="0.75"/>
<rect x="332.6" y="297.1" width="1.2" height="1.9" rx="0.5" fill="#fff" fill-opacity="0.75"/>
<rect x="329.0" y="276.2" width="1.2" height="1.9" rx="0.5" fill="#fff" fill-opacity="0.75"/>
<rect x="354.8" y="268.6" width="1.2" height="1.9" rx="0.5" fill="#fff" fill-opacity="0.75"/>
<rect x="362.1" y="292.3" width="1.7" height="2.7" rx="0.6" fill="#e81e27"/>
<rect x="330.2" y="296.1" width="1.7" height="2.7" rx="0.6" fill="#e81e27"/>
<rect x="319.9" y="267.5" width="1.7" height="2.7" rx="0.6" fill="#e81e27"/>
<rect x="324.1" y="271.2" width="1.7" height="2.7" rx="0.6" fill="#e81e27"/>
<rect x="311.1" y="271.0" width="1.7" height="2.7" rx="0.6" fill="#e81e27"/>
<rect x="345.2" y="296.6" width="1.7" height="2.7" rx="0.6" fill="#e81e27"/>
<rect x="361.6" y="282.0" width="1.7" height="2.7" rx="0.6" fill="#e81e27"/>
<rect x="357.8" y="290.9" width="1.7" height="2.7" rx="0.6" fill="#e81e27"/>
<rect x="339.0" y="298.0" width="1.7" height="2.7" rx="0.6" fill="#e81e27"/>
<rect x="305.4" y="288.9" width="1.7" height="2.7" rx="0.6" fill="#e81e27"/>
<rect x="304.1" y="277.4" width="1.7" height="2.7" rx="0.6" fill="#e81e27"/>
<rect x="305.5" y="270.2" width="1.7" height="2.7" rx="0.6" fill="#e81e27"/>
<rect x="299.6" y="277.0" width="1.7" height="2.7" rx="0.6" fill="#e81e27"/>
<rect x="329.6" y="297.2" width="1.7" height="2.7" rx="0.6" fill="#e81e27"/>
<rect x="323.2" y="267.9" width="1.7" height="2.7" rx="0.6" fill="#e81e27"/>
<rect x="365.8" y="268.1" width="1.7" height="2.7" rx="0.6" fill="#e81e27"/>
<rect x="302.2" y="274.4" width="1.7" height="2.7" rx="0.6" fill="#e81e27"/>
<rect x="305.7" y="274.6" width="1.7" height="2.7" rx="0.6" fill="#e81e27"/>
<rect x="336.5" y="298.2" width="1.7" height="2.7" rx="0.6" fill="#e81e27"/>
<rect x="332.0" y="297.2" width="1.7" height="2.7" rx="0.6" fill="#e81e27"/>
<rect x="318.8" y="272.1" width="1.7" height="2.7" rx="0.6" fill="#e81e27"/>
<rect x="347.9" y="295.3" width="1.7" height="2.7" rx="0.6" fill="#e81e27"/>
<rect x="358.3" y="273.9" width="1.7" height="2.7" rx="0.6" fill="#e81e27"/>
<rect x="323.0" y="272.0" width="1.7" height="2.7" rx="0.6" fill="#e81e27"/>
<rect x="309.5" y="268.5" width="1.7" height="2.7" rx="0.6" fill="#e81e27"/>
<rect x="355.0" y="290.5" width="1.7" height="2.7" rx="0.6" fill="#e81e27"/>
<rect x="315.9" y="271.9" width="1.7" height="2.7" rx="0.6" fill="#e81e27"/>
<rect x="363.2" y="281.2" width="1.7" height="2.7" rx="0.6" fill="#e81e27"/>
<rect x="308.7" y="298.1" width="1.7" height="2.7" rx="0.6" fill="#e81e27"/>
<rect x="357.6" y="289.6" width="1.7" height="2.7" rx="0.6" fill="#e81e27"/>
<rect x="302.5" y="284.6" width="1.7" height="2.7" rx="0.6" fill="#e81e27"/>
<rect x="314.4" y="295.7" width="1.7" height="2.7" rx="0.6" fill="#e81e27"/>
<rect x="305.4" y="267.9" width="1.7" height="2.7" rx="0.6" fill="#e81e27"/>
<rect x="299.5" y="286.4" width="1.7" height="2.7" rx="0.6" fill="#e81e27"/>
<rect x="340.7" y="296.9" width="1.7" height="2.7" rx="0.6" fill="#e81e27"/>
<rect x="307.4" y="287.4" width="1.7" height="2.7" rx="0.6" fill="#e81e27"/>
<rect x="305.2" y="287.5" width="1.7" height="2.7" rx="0.6" fill="#e81e27"/>
<rect x="358.7" y="291.2" width="1.7" height="2.7" rx="0.6" fill="#e81e27"/>
<rect x="322.9" y="265.5" width="1.7" height="2.7" rx="0.6" fill="#e81e27"/>
<rect x="348.8" y="298.3" width="1.7" height="2.7" rx="0.6" fill="#e81e27"/>
<rect x="318.5" y="271.9" width="1.7" height="2.7" rx="0.6" fill="#e81e27"/>
<rect x="327.8" y="298.0" width="1.7" height="2.7" rx="0.6" fill="#e81e27"/>
<rect x="311.2" y="269.9" width="1.7" height="2.7" rx="0.6" fill="#e81e27"/>
<rect x="345.0" y="296.3" width="1.7" height="2.7" rx="0.6" fill="#e81e27"/>
<rect x="358.4" y="274.7" width="1.7" height="2.7" rx="0.6" fill="#e81e27"/>
<rect x="310.5" y="267.8" width="1.7" height="2.7" rx="0.6" fill="#e81e27"/>
<rect x="306.3" y="291.0" width="1.7" height="2.7" rx="0.6" fill="#e81e27"/>
<rect x="306.6" y="272.3" width="1.7" height="2.7" rx="0.6" fill="#e81e27"/>
<rect x="358.2" y="285.7" width="1.7" height="2.7" rx="0.6" fill="#e81e27"/>
<rect x="360.4" y="276.0" width="1.7" height="2.7" rx="0.6" fill="#e81e27"/>
<rect x="306.2" y="272.8" width="1.7" height="2.7" rx="0.6" fill="#e81e27"/>
<rect x="340.5" y="296.1" width="1.7" height="2.7" rx="0.6" fill="#e81e27"/>
<rect x="307.5" y="271.4" width="1.7" height="2.7" rx="0.6" fill="#e81e27"/>
<rect x="357.8" y="270.4" width="1.7" height="2.7" rx="0.6" fill="#e81e27"/>
<rect x="306.0" y="274.0" width="1.7" height="2.7" rx="0.6" fill="#e81e27"/>
<rect x="306.3" y="293.2" width="1.7" height="2.7" rx="0.6" fill="#e81e27"/>
<rect x="322.7" y="297.1" width="1.7" height="2.7" rx="0.6" fill="#e81e27"/>
<rect x="322.2" y="295.3" width="1.7" height="2.7" rx="0.6" fill="#e81e27"/>
<rect x="316.8" y="293.9" width="1.7" height="2.7" rx="0.6" fill="#e81e27"/>
<rect x="316.0" y="294.0" width="1.7" height="2.7" rx="0.6" fill="#e81e27"/>
<rect x="351.1" y="294.9" width="1.7" height="2.7" rx="0.6" fill="#e81e27"/>
<rect x="336.6" y="297.5" width="1.7" height="2.7" rx="0.6" fill="#e81e27"/>
<rect x="361.1" y="293.4" width="1.7" height="2.7" rx="0.6" fill="#e81e27"/>
<rect x="319.5" y="294.5" width="1.7" height="2.7" rx="0.6" fill="#e81e27"/>
<rect x="360.2" y="280.3" width="1.7" height="2.7" rx="0.6" fill="#e81e27"/>
<rect x="359.1" y="283.1" width="1.7" height="2.7" rx="0.6" fill="#e81e27"/>
<rect x="307.7" y="267.2" width="1.7" height="2.7" rx="0.6" fill="#e81e27"/>
<rect x="304.4" y="273.1" width="1.7" height="2.7" rx="0.6" fill="#e81e27"/>
<rect x="357.8" y="276.9" width="1.7" height="2.7" rx="0.6" fill="#e81e27"/>
<rect x="308.3" y="269.2" width="1.7" height="2.7" rx="0.6" fill="#e81e27"/>
<rect x="308.2" y="290.0" width="1.7" height="2.7" rx="0.6" fill="#e81e27"/>
<rect x="304.3" y="276.1" width="1.7" height="2.7" rx="0.6" fill="#e81e27"/>
<rect x="312.0" y="294.2" width="1.7" height="2.7" rx="0.6" fill="#e81e27"/>
<rect x="360.6" y="268.2" width="1.7" height="2.7" rx="0.6" fill="#e81e27"/>
<rect x="300.3" y="283.0" width="1.7" height="2.7" rx="0.6" fill="#e81e27"/>
<rect x="354.1" y="293.1" width="1.7" height="2.7" rx="0.6" fill="#e81e27"/>
<rect x="305.8" y="281.5" width="1.7" height="2.7" rx="0.6" fill="#e81e27"/>
<rect x="355.8" y="287.1" width="1.7" height="2.7" rx="0.6" fill="#e81e27"/>
<rect x="304.5" y="279.4" width="1.7" height="2.7" rx="0.6" fill="#e81e27"/>
<rect x="347.0" y="296.3" width="1.7" height="2.7" rx="0.6" fill="#e81e27"/>
<rect x="314.8" y="298.6" width="1.7" height="2.7" rx="0.6" fill="#e81e27"/>
<rect x="357.5" y="285.4" width="1.7" height="2.7" rx="0.6" fill="#e81e27"/>
<rect x="357.8" y="274.9" width="1.7" height="2.7" rx="0.6" fill="#e81e27"/>
<rect x="360.5" y="286.4" width="1.7" height="2.7" rx="0.6" fill="#e81e27"/>
<rect x="349.7" y="293.9" width="1.7" height="2.7" rx="0.6" fill="#e81e27"/>
<rect x="358.6" y="281.6" width="1.7" height="2.7" rx="0.6" fill="#e81e27"/>
<rect x="358.0" y="274.1" width="1.7" height="2.7" rx="0.6" fill="#e81e27"/>
<rect x="364.8" y="269.5" width="1.7" height="2.7" rx="0.6" fill="#e81e27"/>
<rect x="353.5" y="289.8" width="1.7" height="2.7" rx="0.6" fill="#e81e27"/>
<rect x="311.9" y="294.3" width="1.7" height="2.7" rx="0.6" fill="#e81e27"/>
<rect x="305.4" y="315.4" width="1.8" height="2.8" rx="0.6" fill="#e81e27"/>
<rect x="315.4" y="300.6" width="1.8" height="2.8" rx="0.6" fill="#e81e27"/>
<rect x="333.1" y="298.8" width="1.8" height="2.8" rx="0.6" fill="#e81e27"/>
<rect x="340.3" y="301.5" width="1.8" height="2.8" rx="0.6" fill="#e81e27"/>
<rect x="322.0" y="300.5" width="1.8" height="2.8" rx="0.6" fill="#e81e27"/>
<rect x="323.1" y="294.9" width="1.8" height="2.8" rx="0.6" fill="#e81e27"/>
<rect x="323.2" y="297.8" width="1.8" height="2.8" rx="0.6" fill="#e81e27"/>
<rect x="299.3" y="306.7" width="1.8" height="2.8" rx="0.6" fill="#e81e27"/>
<rect x="342.0" y="298.7" width="1.8" height="2.8" rx="0.6" fill="#e81e27"/>
<rect x="311.9" y="313.6" width="1.8" height="2.8" rx="0.6" fill="#e81e27"/>
<rect x="328.0" y="298.8" width="1.8" height="2.8" rx="0.6" fill="#e81e27"/>
<rect x="297.5" y="303.4" width="1.8" height="2.8" rx="0.6" fill="#e81e27"/>
<rect x="308.0" y="311.4" width="1.8" height="2.8" rx="0.6" fill="#e81e27"/>
<rect x="303.3" y="311.8" width="1.8" height="2.8" rx="0.6" fill="#e81e27"/>
<rect x="308.1" y="298.3" width="1.8" height="2.8" rx="0.6" fill="#e81e27"/>
<rect x="317.6" y="305.8" width="1.8" height="2.8" rx="0.6" fill="#e81e27"/>
<rect x="323.1" y="297.9" width="1.8" height="2.8" rx="0.6" fill="#e81e27"/>
<rect x="309.7" y="303.1" width="1.8" height="2.8" rx="0.6" fill="#e81e27"/>
<rect x="350.4" y="295.9" width="1.8" height="2.8" rx="0.6" fill="#e81e27"/>
<rect x="316.7" y="306.8" width="1.8" height="2.8" rx="0.6" fill="#e81e27"/>
<rect x="331.3" y="298.6" width="1.8" height="2.8" rx="0.6" fill="#e81e27"/>
<rect x="312.7" y="300.9" width="1.8" height="2.8" rx="0.6" fill="#e81e27"/>
<rect x="323.2" y="300.7" width="1.8" height="2.8" rx="0.6" fill="#e81e27"/>
<rect x="313.3" y="294.6" width="1.8" height="2.8" rx="0.6" fill="#e81e27"/>
<rect x="325.8" y="296.0" width="1.8" height="2.8" rx="0.6" fill="#e81e27"/>
<rect x="314.8" y="310.8" width="1.8" height="2.8" rx="0.6" fill="#e81e27"/>
<rect x="335.4" y="307.0" width="1.8" height="2.8" rx="0.6" fill="#e81e27"/>
<rect x="309.1" y="313.8" width="1.8" height="2.8" rx="0.6" fill="#e81e27"/>
<rect x="323.8" y="312.7" width="1.8" height="2.8" rx="0.6" fill="#e81e27"/>
<rect x="351.0" y="297.6" width="1.8" height="2.8" rx="0.6" fill="#e81e27"/>
<rect x="343.2" y="296.5" width="1.8" height="2.8" rx="0.6" fill="#e81e27"/>
<rect x="306.9" y="301.3" width="1.8" height="2.8" rx="0.6" fill="#e81e27"/>
<rect x="311.2" y="298.4" width="1.8" height="2.8" rx="0.6" fill="#e81e27"/>
<rect x="297.9" y="313.5" width="1.8" height="2.8" rx="0.6" fill="#e81e27"/>
<rect x="311.8" y="296.2" width="1.8" height="2.8" rx="0.6" fill="#e81e27"/>
<rect x="314.0" y="317.3" width="1.8" height="2.8" rx="0.6" fill="#e81e27"/>
<rect x="335.2" y="298.8" width="1.8" height="2.8" rx="0.6" fill="#e81e27"/>
<rect x="311.2" y="295.2" width="1.8" height="2.8" rx="0.6" fill="#e81e27"/>
<rect x="305.6" y="299.6" width="1.8" height="2.8" rx="0.6" fill="#e81e27"/>
<rect x="348.8" y="300.2" width="1.8" height="2.8" rx="0.6" fill="#e81e27"/>
<rect x="317.5" y="301.3" width="1.8" height="2.8" rx="0.6" fill="#e81e27"/>
<rect x="326.6" y="297.8" width="1.8" height="2.8" rx="0.6" fill="#e81e27"/>
<rect x="333.8" y="302.5" width="1.8" height="2.8" rx="0.6" fill="#e81e27"/>
<rect x="322.8" y="307.0" width="1.8" height="2.8" rx="0.6" fill="#e81e27"/>
<rect x="322.1" y="310.6" width="1.8" height="2.8" rx="0.6" fill="#e81e27"/>
<rect x="313.6" y="298.5" width="1.8" height="2.8" rx="0.6" fill="#e81e27"/>
<rect x="336.1" y="306.5" width="1.8" height="2.8" rx="0.6" fill="#e81e27"/>
<rect x="314.9" y="293.1" width="1.8" height="2.8" rx="0.6" fill="#e81e27"/>
<rect x="348.9" y="300.7" width="1.8" height="2.8" rx="0.6" fill="#e81e27"/>
<rect x="306.6" y="302.2" width="1.8" height="2.8" rx="0.6" fill="#e81e27"/>
<rect x="336.6" y="298.4" width="1.8" height="2.8" rx="0.6" fill="#e81e27"/>
<rect x="316.8" y="301.1" width="1.8" height="2.8" rx="0.6" fill="#e81e27"/>
<rect x="339.0" y="301.4" width="1.8" height="2.8" rx="0.6" fill="#e81e27"/>
<rect x="351.5" y="298.6" width="1.8" height="2.8" rx="0.6" fill="#e81e27"/>
<rect x="329.8" y="306.5" width="1.8" height="2.8" rx="0.6" fill="#e81e27"/>
<rect x="310.7" y="302.2" width="1.8" height="2.8" rx="0.6" fill="#e81e27"/>
<rect x="325.2" y="299.5" width="1.8" height="2.8" rx="0.6" fill="#e81e27"/>
<rect x="303.9" y="295.7" width="1.8" height="2.8" rx="0.6" fill="#e81e27"/>
<rect x="321.3" y="301.8" width="1.8" height="2.8" rx="0.6" fill="#e81e27"/>
<rect x="346.4" y="301.8" width="1.8" height="2.8" rx="0.6" fill="#e81e27"/>
<rect x="305.4" y="292.4" width="1.8" height="2.8" rx="0.6" fill="#e81e27"/>
<rect x="343.6" y="304.0" width="1.8" height="2.8" rx="0.6" fill="#e81e27"/>
<rect x="333.4" y="301.5" width="1.8" height="2.8" rx="0.6" fill="#e81e27"/>
<rect x="310.4" y="319.3" width="1.8" height="2.8" rx="0.6" fill="#e81e27"/>
<rect x="328.9" y="296.7" width="1.8" height="2.8" rx="0.6" fill="#e81e27"/>
<rect x="308.8" y="308.9" width="1.8" height="2.8" rx="0.6" fill="#e81e27"/>
<rect x="303.3" y="290.5" width="1.8" height="2.8" rx="0.6" fill="#e81e27"/>
<rect x="323.3" y="317.7" width="1.8" height="2.8" rx="0.6" fill="#e81e27"/>
<rect x="314.5" y="295.8" width="1.8" height="2.8" rx="0.6" fill="#e81e27"/>
<rect x="312.4" y="310.4" width="1.8" height="2.8" rx="0.6" fill="#e81e27"/>
<rect x="312.5" y="298.9" width="1.8" height="2.8" rx="0.6" fill="#e81e27"/>
<rect x="333.4" y="296.2" width="1.8" height="2.8" rx="0.6" fill="#e81e27"/>
<rect x="307.6" y="303.8" width="1.8" height="2.8" rx="0.6" fill="#e81e27"/>
<rect x="306.3" y="297.5" width="1.8" height="2.8" rx="0.6" fill="#e81e27"/>
<rect x="351.2" y="298.5" width="1.8" height="2.8" rx="0.6" fill="#e81e27"/>
<rect x="331.5" y="308.5" width="1.8" height="2.8" rx="0.6" fill="#e81e27"/>
<rect x="331.0" y="297.8" width="1.8" height="2.8" rx="0.6" fill="#e81e27"/>
<rect x="314.8" y="295.5" width="1.8" height="2.8" rx="0.6" fill="#e81e27"/>
<rect x="316.1" y="300.9" width="1.8" height="2.8" rx="0.6" fill="#e81e27"/>
<rect x="308.9" y="299.9" width="1.8" height="2.8" rx="0.6" fill="#e81e27"/>
<rect x="328.7" y="307.4" width="1.8" height="2.8" rx="0.6" fill="#e81e27"/>
<rect x="303.8" y="297.6" width="1.8" height="2.8" rx="0.6" fill="#e81e27"/>
<rect x="354.6" y="295.1" width="1.8" height="2.8" rx="0.6" fill="#e81e27"/>
<rect x="349.4" y="303.0" width="1.8" height="2.8" rx="0.6" fill="#e81e27"/>
<rect x="310.6" y="313.4" width="1.8" height="2.8" rx="0.6" fill="#e81e27"/>
<rect x="307.1" y="290.9" width="1.8" height="2.8" rx="0.6" fill="#e81e27"/>
<rect x="310.6" y="300.5" width="1.8" height="2.8" rx="0.6" fill="#e81e27"/>
<rect x="334.0" y="303.0" width="1.8" height="2.8" rx="0.6" fill="#e81e27"/>
<rect x="318.3" y="299.0" width="1.8" height="2.8" rx="0.6" fill="#e81e27"/>
<rect x="305.8" y="292.9" width="1.8" height="2.8" rx="0.6" fill="#e81e27"/>
<rect x="321.4" y="297.0" width="1.8" height="2.8" rx="0.6" fill="#e81e27"/>
<rect x="305.1" y="305.9" width="1.8" height="2.8" rx="0.6" fill="#e81e27"/>
<rect x="351.4" y="296.2" width="1.8" height="2.8" rx="0.6" fill="#e81e27"/>
<rect x="312.4" y="296.0" width="1.8" height="2.8" rx="0.6" fill="#e81e27"/>
<rect x="313.9" y="294.4" width="1.8" height="2.8" rx="0.6" fill="#e81e27"/>
<rect x="337.9" y="297.6" width="1.8" height="2.8" rx="0.6" fill="#e81e27"/>
<rect x="350.1" y="303.3" width="1.8" height="2.8" rx="0.6" fill="#e81e27"/>
<rect x="327.9" y="301.5" width="1.8" height="2.8" rx="0.6" fill="#e81e27"/>
<rect x="343.3" y="305.2" width="1.8" height="2.8" rx="0.6" fill="#e81e27"/>
<rect x="334.8" y="303.5" width="1.8" height="2.8" rx="0.6" fill="#e81e27"/>
<rect x="325.1" y="298.3" width="1.8" height="2.8" rx="0.6" fill="#e81e27"/>
<rect x="334.7" y="302.0" width="1.8" height="2.8" rx="0.6" fill="#e81e27"/>
<rect x="322.7" y="311.2" width="1.8" height="2.8" rx="0.6" fill="#e81e27"/>
<rect x="321.0" y="303.1" width="1.8" height="2.8" rx="0.6" fill="#e81e27"/>
<rect x="305.0" y="302.8" width="1.8" height="2.8" rx="0.6" fill="#e81e27"/>
<rect x="299.7" y="303.1" width="1.8" height="2.8" rx="0.6" fill="#e81e27"/>
<rect x="316.7" y="297.7" width="1.8" height="2.8" rx="0.6" fill="#e81e27"/>
<rect x="320.4" y="300.8" width="1.8" height="2.8" rx="0.6" fill="#e81e27"/>
<rect x="315.4" y="306.6" width="1.8" height="2.8" rx="0.6" fill="#e81e27"/>
<rect x="308.6" y="292.1" width="1.8" height="2.8" rx="0.6" fill="#e81e27"/>
<rect x="321.8" y="314.8" width="1.8" height="2.8" rx="0.6" fill="#e81e27"/>
<rect x="310.1" y="295.5" width="1.8" height="2.8" rx="0.6" fill="#e81e27"/>
<rect x="308.0" y="300.8" width="1.8" height="2.8" rx="0.6" fill="#e81e27"/>
<rect x="322.8" y="300.4" width="1.8" height="2.8" rx="0.6" fill="#e81e27"/>
<rect x="312.2" y="305.2" width="1.8" height="2.8" rx="0.6" fill="#e81e27"/>
<rect x="330.5" y="302.8" width="1.8" height="2.8" rx="0.6" fill="#e81e27"/>
<rect x="311.9" y="300.8" width="1.8" height="2.8" rx="0.6" fill="#e81e27"/>
<rect x="301.7" y="300.0" width="1.8" height="2.8" rx="0.6" fill="#e81e27"/>
<rect x="345.4" y="302.5" width="1.8" height="2.8" rx="0.6" fill="#e81e27"/>
<rect x="301.9" y="291.4" width="1.8" height="2.8" rx="0.6" fill="#e81e27"/>
<rect x="307.0" y="290.3" width="1.8" height="2.8" rx="0.6" fill="#e81e27"/>
<rect x="312.9" y="293.0" width="1.8" height="2.8" rx="0.6" fill="#e81e27"/>
<rect x="333.0" y="296.6" width="1.8" height="2.8" rx="0.6" fill="#e81e27"/>
<rect x="318.3" y="297.1" width="1.8" height="2.8" rx="0.6" fill="#e81e27"/>
<rect x="307.1" y="292.8" width="1.8" height="2.8" rx="0.6" fill="#e81e27"/>
<rect x="337.6" y="299.9" width="1.8" height="2.8" rx="0.6" fill="#e81e27"/>
<rect x="324.4" y="300.0" width="1.8" height="2.8" rx="0.6" fill="#e81e27"/>
<rect x="309.3" y="291.5" width="1.8" height="2.8" rx="0.6" fill="#e81e27"/>
<rect x="320.2" y="304.2" width="1.8" height="2.8" rx="0.6" fill="#e81e27"/>
<rect x="321.7" y="300.5" width="1.8" height="2.8" rx="0.6" fill="#e81e27"/>
<rect x="322.5" y="311.7" width="1.8" height="2.8" rx="0.6" fill="#e81e27"/>
<rect x="321.8" y="298.9" width="1.8" height="2.8" rx="0.6" fill="#e81e27"/>
<rect x="323.8" y="299.2" width="1.8" height="2.8" rx="0.6" fill="#e81e27"/>
<rect x="308.8" y="305.7" width="1.8" height="2.8" rx="0.6" fill="#e81e27"/>
<rect x="336.3" y="311.0" width="1.8" height="2.8" rx="0.6" fill="#e81e27"/>
<rect x="315.5" y="301.1" width="1.8" height="2.8" rx="0.6" fill="#e81e27"/>
<rect x="347.6" y="301.0" width="1.8" height="2.8" rx="0.6" fill="#e81e27"/>
<rect x="317.8" y="319.2" width="1.8" height="2.8" rx="0.6" fill="#e81e27"/>
<rect x="334.7" y="303.9" width="1.8" height="2.8" rx="0.6" fill="#e81e27"/>
<rect x="347.9" y="304.4" width="1.8" height="2.8" rx="0.6" fill="#e81e27"/>
<rect x="318.6" y="295.5" width="1.8" height="2.8" rx="0.6" fill="#e81e27"/>
<rect x="311.2" y="315.0" width="1.8" height="2.8" rx="0.6" fill="#e81e27"/>
<rect x="351.9" y="296.5" width="1.8" height="2.8" rx="0.6" fill="#e81e27"/>
<rect x="318.6" y="318.3" width="1.8" height="2.8" rx="0.6" fill="#e81e27"/>
<rect x="309.2" y="310.2" width="1.8" height="2.8" rx="0.6" fill="#e81e27"/>
<rect x="331.2" y="307.5" width="1.8" height="2.8" rx="0.6" fill="#e81e27"/>
<rect x="345.0" y="297.6" width="1.8" height="2.8" rx="0.6" fill="#e81e27"/>
<rect x="307.7" y="310.1" width="1.8" height="2.8" rx="0.6" fill="#e81e27"/>
<rect x="298.5" y="305.9" width="1.8" height="2.8" rx="0.6" fill="#e81e27"/>
<rect x="348.3" y="295.6" width="1.8" height="2.8" rx="0.6" fill="#e81e27"/>
<rect x="340.7" y="296.5" width="1.8" height="2.8" rx="0.6" fill="#e81e27"/>
<rect x="314.9" y="294.4" width="1.8" height="2.8" rx="0.6" fill="#e81e27"/>
<rect x="340.4" y="309.0" width="1.8" height="2.8" rx="0.6" fill="#e81e27"/>
<rect x="324.8" y="314.1" width="1.8" height="2.8" rx="0.6" fill="#e81e27"/>
<rect x="310.9" y="302.3" width="1.8" height="2.8" rx="0.6" fill="#e81e27"/>
<rect x="329.3" y="299.5" width="1.8" height="2.8" rx="0.6" fill="#e81e27"/>
<rect x="324.8" y="306.8" width="1.8" height="2.8" rx="0.6" fill="#e81e27"/>
<rect x="322.0" y="295.5" width="1.8" height="2.8" rx="0.6" fill="#e81e27"/>
<rect x="314.2" y="296.7" width="1.8" height="2.8" rx="0.6" fill="#e81e27"/>
<rect x="316.2" y="298.5" width="1.8" height="2.8" rx="0.6" fill="#e81e27"/>
<rect x="331.3" y="296.8" width="1.8" height="2.8" rx="0.6" fill="#e81e27"/>
<rect x="326.5" y="295.1" width="1.8" height="2.8" rx="0.6" fill="#e81e27"/>
<rect x="327.5" y="297.6" width="1.8" height="2.8" rx="0.6" fill="#e81e27"/>
<rect x="304.7" y="301.6" width="1.8" height="2.8" rx="0.6" fill="#e81e27"/>
<rect x="299.0" y="297.1" width="1.8" height="2.8" rx="0.6" fill="#e81e27"/>
<rect x="317.6" y="299.4" width="1.8" height="2.8" rx="0.6" fill="#e81e27"/>
<rect x="313.1" y="299.5" width="1.8" height="2.8" rx="0.6" fill="#e81e27"/>
<rect x="306.9" y="291.5" width="1.8" height="2.8" rx="0.6" fill="#e81e27"/>
<rect x="324.3" y="302.5" width="1.8" height="2.8" rx="0.6" fill="#e81e27"/>
<rect x="310.3" y="296.7" width="1.8" height="2.8" rx="0.6" fill="#e81e27"/>
<rect x="315.4" y="314.9" width="1.8" height="2.8" rx="0.6" fill="#e81e27"/>
<rect x="352.8" y="297.5" width="1.8" height="2.8" rx="0.6" fill="#e81e27"/>
<rect x="304.8" y="305.4" width="1.8" height="2.8" rx="0.6" fill="#e81e27"/>
<rect x="310.7" y="296.4" width="1.8" height="2.8" rx="0.6" fill="#e81e27"/>
<rect x="302.2" y="302.9" width="1.8" height="2.8" rx="0.6" fill="#e81e27"/>
<rect x="311.3" y="294.3" width="1.8" height="2.8" rx="0.6" fill="#e81e27"/>
<rect x="306.6" y="303.3" width="1.8" height="2.8" rx="0.6" fill="#e81e27"/>
<rect x="347.6" y="300.5" width="1.8" height="2.8" rx="0.6" fill="#e81e27"/>
<rect x="313.5" y="292.7" width="1.8" height="2.8" rx="0.6" fill="#e81e27"/>
<rect x="298.9" y="312.3" width="1.8" height="2.8" rx="0.6" fill="#e81e27"/>
<rect x="315.9" y="307.1" width="1.8" height="2.8" rx="0.6" fill="#e81e27"/>
<rect x="302.3" y="291.8" width="1.8" height="2.8" rx="0.6" fill="#e81e27"/>
<rect x="336.3" y="299.7" width="1.8" height="2.8" rx="0.6" fill="#e81e27"/>
<rect x="316.8" y="303.3" width="1.8" height="2.8" rx="0.6" fill="#e81e27"/>
<rect x="306.2" y="303.7" width="1.8" height="2.8" rx="0.6" fill="#e81e27"/>
<rect x="352.6" y="299.8" width="1.8" height="2.8" rx="0.6" fill="#e81e27"/>
<rect x="350.0" y="295.7" width="1.8" height="2.8" rx="0.6" fill="#e81e27"/>
<rect x="309.8" y="314.5" width="1.8" height="2.8" rx="0.6" fill="#e81e27"/>
<rect x="338.6" y="299.8" width="1.8" height="2.8" rx="0.6" fill="#e81e27"/>
<rect x="308.0" y="296.8" width="1.8" height="2.8" rx="0.6" fill="#e81e27"/>
<rect x="312.8" y="306.2" width="1.8" height="2.8" rx="0.6" fill="#e81e27"/>
<rect x="320.2" y="301.2" width="1.8" height="2.8" rx="0.6" fill="#e81e27"/>
<rect x="309.7" y="298.9" width="1.8" height="2.8" rx="0.6" fill="#e81e27"/>
<rect x="317.2" y="301.3" width="1.8" height="2.8" rx="0.6" fill="#e81e27"/>
<rect x="318.4" y="307.3" width="1.8" height="2.8" rx="0.6" fill="#e81e27"/>
<rect x="311.9" y="302.2" width="1.8" height="2.8" rx="0.6" fill="#e81e27"/>
<rect x="353.2" y="296.3" width="1.8" height="2.8" rx="0.6" fill="#e81e27"/>
<rect x="345.3" y="299.5" width="1.8" height="2.8" rx="0.6" fill="#e81e27"/>
<rect x="319.9" y="294.9" width="1.8" height="2.8" rx="0.6" fill="#e81e27"/>
<rect x="330.7" y="298.5" width="1.8" height="2.8" rx="0.6" fill="#e81e27"/>
<rect x="340.4" y="301.1" width="1.8" height="2.8" rx="0.6" fill="#e81e27"/>
<rect x="320.7" y="296.6" width="1.8" height="2.8" rx="0.6" fill="#e81e27"/>
<rect x="305.0" y="301.9" width="1.8" height="2.8" rx="0.6" fill="#e81e27"/>
<rect x="321.9" y="308.7" width="1.8" height="2.8" rx="0.6" fill="#e81e27"/>
<rect x="332.5" y="296.0" width="1.8" height="2.8" rx="0.6" fill="#e81e27"/>
<rect x="302.5" y="292.3" width="1.8" height="2.8" rx="0.6" fill="#e81e27"/>
<rect x="317.9" y="308.9" width="1.8" height="2.8" rx="0.6" fill="#e81e27"/>
<rect x="305.7" y="306.1" width="1.8" height="2.8" rx="0.6" fill="#e81e27"/>
<rect x="310.9" y="302.4" width="1.8" height="2.8" rx="0.6" fill="#e81e27"/>
<rect x="305.3" y="300.9" width="1.8" height="2.8" rx="0.6" fill="#e81e27"/>
<rect x="313.8" y="308.9" width="1.8" height="2.8" rx="0.6" fill="#e81e27"/>
<rect x="346.0" y="296.3" width="1.8" height="2.8" rx="0.6" fill="#e81e27"/>
<rect x="303.2" y="302.7" width="1.8" height="2.8" rx="0.6" fill="#e81e27"/>
<rect x="300.2" y="295.6" width="1.8" height="2.8" rx="0.6" fill="#e81e27"/>
<rect x="303.7" y="310.1" width="1.8" height="2.8" rx="0.6" fill="#e81e27"/>
<rect x="316.7" y="302.6" width="1.8" height="2.8" rx="0.6" fill="#e81e27"/>
<rect x="320.5" y="295.1" width="1.8" height="2.8" rx="0.6" fill="#e81e27"/>
<rect x="352.7" y="297.6" width="1.8" height="2.8" rx="0.6" fill="#e81e27"/>
<rect x="322.9" y="297.0" width="1.8" height="2.8" rx="0.6" fill="#e81e27"/>
<rect x="325.8" y="307.4" width="1.8" height="2.8" rx="0.6" fill="#e81e27"/>
<rect x="325.5" y="294.8" width="1.8" height="2.8" rx="0.6" fill="#e81e27"/>
<rect x="306.0" y="312.7" width="1.8" height="2.8" rx="0.6" fill="#e81e27"/>
<rect x="312.7" y="295.8" width="1.8" height="2.8" rx="0.6" fill="#e81e27"/>
<rect x="313.7" y="320.4" width="1.8" height="2.8" rx="0.6" fill="#e81e27"/>
<rect x="318.5" y="299.9" width="1.8" height="2.8" rx="0.6" fill="#e81e27"/>
<rect x="322.5" y="301.0" width="1.8" height="2.8" rx="0.6" fill="#e81e27"/>
<rect x="312.5" y="298.9" width="1.8" height="2.8" rx="0.6" fill="#e81e27"/>
<rect x="306.0" y="292.9" width="1.8" height="2.8" rx="0.6" fill="#e81e27"/>
<rect x="328.8" y="296.9" width="1.8" height="2.8" rx="0.6" fill="#e81e27"/>
<rect x="340.9" y="306.6" width="1.8" height="2.8" rx="0.6" fill="#e81e27"/>
<rect x="352.5" y="299.7" width="1.8" height="2.8" rx="0.6" fill="#e81e27"/>
<rect x="312.7" y="292.8" width="1.8" height="2.8" rx="0.6" fill="#e81e27"/>
<rect x="322.4" y="298.9" width="1.8" height="2.8" rx="0.6" fill="#e81e27"/>
<rect x="335.6" y="304.5" width="1.8" height="2.8" rx="0.6" fill="#e81e27"/>
<rect x="309.4" y="302.0" width="1.8" height="2.8" rx="0.6" fill="#e81e27"/>
<rect x="315.1" y="299.2" width="1.8" height="2.8" rx="0.6" fill="#e81e27"/>
<rect x="299.1" y="311.2" width="1.8" height="2.8" rx="0.6" fill="#e81e27"/>
<rect x="341.2" y="300.1" width="1.8" height="2.8" rx="0.6" fill="#e81e27"/>
<rect x="311.2" y="292.8" width="1.8" height="2.8" rx="0.6" fill="#e81e27"/>
<rect x="339.1" y="299.5" width="1.8" height="2.8" rx="0.6" fill="#e81e27"/>
<rect x="342.4" y="302.1" width="1.8" height="2.8" rx="0.6" fill="#e81e27"/>
<rect x="309.4" y="293.4" width="1.8" height="2.8" rx="0.6" fill="#e81e27"/>
<rect x="311.4" y="295.4" width="1.8" height="2.8" rx="0.6" fill="#e81e27"/>
<rect x="300.4" y="294.7" width="1.8" height="2.8" rx="0.6" fill="#e81e27"/>
<rect x="296.6" y="304.4" width="1.8" height="2.8" rx="0.6" fill="#e81e27"/>
<rect x="308.8" y="305.8" width="1.8" height="2.8" rx="0.6" fill="#e81e27"/>
<rect x="334.8" y="302.7" width="1.8" height="2.8" rx="0.6" fill="#e81e27"/>
<rect x="309.6" y="312.9" width="1.8" height="2.8" rx="0.6" fill="#e81e27"/>
<rect x="346.2" y="299.7" width="1.8" height="2.8" rx="0.6" fill="#e81e27"/>
<rect x="309.6" y="312.6" width="1.8" height="2.8" rx="0.6" fill="#e81e27"/>
<rect x="308.3" y="327.4" width="1.8" height="2.8" rx="0.6" fill="#e81e27"/>
<rect x="295.2" y="313.7" width="1.8" height="2.8" rx="0.6" fill="#e81e27"/>
<rect x="284.9" y="309.7" width="1.8" height="2.8" rx="0.6" fill="#e81e27"/>
<rect x="308.2" y="323.6" width="1.8" height="2.8" rx="0.6" fill="#e81e27"/>
<rect x="292.5" y="311.8" width="1.8" height="2.8" rx="0.6" fill="#e81e27"/>
<rect x="285.7" y="322.3" width="1.8" height="2.8" rx="0.6" fill="#e81e27"/>
<rect x="303.7" y="314.0" width="1.8" height="2.8" rx="0.6" fill="#e81e27"/>
<rect x="290.5" y="324.4" width="1.8" height="2.8" rx="0.6" fill="#e81e27"/>
<rect x="308.7" y="329.4" width="1.8" height="2.8" rx="0.6" fill="#e81e27"/>
<rect x="290.4" y="320.2" width="1.8" height="2.8" rx="0.6" fill="#e81e27"/>
<rect x="283.9" y="313.1" width="1.8" height="2.8" rx="0.6" fill="#e81e27"/>
<rect x="290.5" y="320.1" width="1.8" height="2.8" rx="0.6" fill="#e81e27"/>
<rect x="303.3" y="332.5" width="1.8" height="2.8" rx="0.6" fill="#e81e27"/>
<rect x="311.0" y="328.7" width="1.8" height="2.8" rx="0.6" fill="#e81e27"/>
<rect x="303.1" y="331.8" width="1.8" height="2.8" rx="0.6" fill="#e81e27"/>
<rect x="305.7" y="330.9" width="1.8" height="2.8" rx="0.6" fill="#e81e27"/>
<rect x="307.6" y="316.7" width="1.8" height="2.8" rx="0.6" fill="#e81e27"/>
<rect x="299.8" y="326.2" width="1.8" height="2.8" rx="0.6" fill="#e81e27"/>
<rect x="308.5" y="317.0" width="1.8" height="2.8" rx="0.6" fill="#e81e27"/>
<rect x="310.8" y="328.5" width="1.8" height="2.8" rx="0.6" fill="#e81e27"/>
<rect x="288.7" y="314.8" width="1.8" height="2.8" rx="0.6" fill="#e81e27"/>
<rect x="313.4" y="323.5" width="1.8" height="2.8" rx="0.6" fill="#e81e27"/>
<rect x="290.4" y="313.0" width="1.8" height="2.8" rx="0.6" fill="#e81e27"/>
<rect x="314.1" y="324.4" width="1.8" height="2.8" rx="0.6" fill="#e81e27"/>
<rect x="286.6" y="329.3" width="1.8" height="2.8" rx="0.6" fill="#e81e27"/>
<rect x="286.4" y="310.2" width="1.8" height="2.8" rx="0.6" fill="#e81e27"/>
<rect x="302.9" y="326.3" width="1.8" height="2.8" rx="0.6" fill="#e81e27"/>
<rect x="308.0" y="323.3" width="1.8" height="2.8" rx="0.6" fill="#e81e27"/>
<rect x="301.7" y="331.1" width="1.8" height="2.8" rx="0.6" fill="#e81e27"/>
<rect x="300.0" y="317.4" width="1.8" height="2.8" rx="0.6" fill="#e81e27"/>
<rect x="302.8" y="314.8" width="1.8" height="2.8" rx="0.6" fill="#e81e27"/>
<rect x="303.4" y="314.8" width="1.8" height="2.8" rx="0.6" fill="#e81e27"/>
<rect x="338.1" y="314.6" width="1.8" height="2.8" rx="0.6" fill="#e81e27"/>
<rect x="345.1" y="327.9" width="1.8" height="2.8" rx="0.6" fill="#e81e27"/>
<rect x="367.1" y="279.6" width="1.8" height="2.8" rx="0.6" fill="#e81e27"/>
<rect x="369.1" y="286.6" width="1.8" height="2.8" rx="0.6" fill="#e81e27"/>
<rect x="364.1" y="295.6" width="1.8" height="2.8" rx="0.6" fill="#e81e27"/>
<rect x="302.1" y="270.9" width="1.8" height="2.8" rx="0.6" fill="#e81e27"/>
<rect x="298.6" y="276.2" width="1.8" height="2.8" rx="0.6" fill="#e81e27"/>
<rect x="297.6" y="280.2" width="1.8" height="2.8" rx="0.6" fill="#e81e27"/>
<rect x="300.6" y="291.6" width="1.8" height="2.8" rx="0.6" fill="#e81e27"/>
<rect x="296.1" y="285.6" width="1.8" height="2.8" rx="0.6" fill="#e81e27"/>
<rect x="361.1" y="303.6" width="1.8" height="2.8" rx="0.6" fill="#e81e27"/>
<rect x="354.1" y="304.6" width="1.8" height="2.8" rx="0.6" fill="#e81e27"/>
<rect x="347.1" y="308.6" width="1.8" height="2.8" rx="0.6" fill="#e81e27"/>
<rect x="359.1" y="298.6" width="1.8" height="2.8" rx="0.6" fill="#e81e27"/>
<line x1="380.4" y1="22" x2="380.4" y2="383" stroke="#6a6a6a" stroke-width="0.75"/>
<line x1="247.6" y1="202.4" x2="513" y2="202.4" stroke="#6a6a6a" stroke-width="0.75"/>
<line x1="247.6" y1="383" x2="513" y2="22" stroke="#ef6363" stroke-width="1.1" stroke-dasharray="4,3.3"/>
</g>
<path d="M247.6,22 H513 V383 H247.6 Z" fill="none" stroke="#333" stroke-width="1.1"/>
<line x1="309.1" y1="383" x2="309.1" y2="386.3" stroke="#333" stroke-width="0.8"/>
<text x="308.5" y="393.5" font-size="7.2" text-anchor="middle" fill="#222" >-3</text>
<line x1="380.4" y1="383" x2="380.4" y2="386.3" stroke="#333" stroke-width="0.8"/>
<text x="380.4" y="393.5" font-size="7.2" text-anchor="middle" fill="#222" >0</text>
<line x1="450.4" y1="383" x2="450.4" y2="386.3" stroke="#333" stroke-width="0.8"/>
<text x="450.4" y="393.5" font-size="7.2" text-anchor="middle" fill="#222" >3</text>
<line x1="244.29999999999998" y1="107.4" x2="247.6" y2="107.4" stroke="#333" stroke-width="0.8"/>
<text x="241.79999999999998" y="110.0" font-size="7.2" text-anchor="end" fill="#222" >3</text>
<line x1="244.29999999999998" y1="202.4" x2="247.6" y2="202.4" stroke="#333" stroke-width="0.8"/>
<text x="241.79999999999998" y="205.0" font-size="7.2" text-anchor="end" fill="#222" >0</text>
<line x1="244.29999999999998" y1="300.1" x2="247.6" y2="300.1" stroke="#333" stroke-width="0.8"/>
<text x="241.79999999999998" y="302.7" font-size="7.2" text-anchor="end" fill="#222" >-3</text>
<text x="388.5" y="406.3" font-size="8.6" text-anchor="middle" fill="#222" >Beta (WT)</text>
<text x="0" y="0" font-size="8.6" text-anchor="middle" fill="#222" transform="translate(236.2,185) rotate(-90)">Beta (P95H)</text>
<text x="275.8" y="43.8" font-size="8.60" fill="#222" textLength="84.6" lengthAdjust="spacingAndGlyphs">Day 18 (P95H vs WT)</text>
<line x1="410" y1="149.5" x2="409.1" y2="151.7" stroke="#222" stroke-width="0.6"/>
<line x1="373.9" y1="160" x2="378.2" y2="179" stroke="#222" stroke-width="0.6"/>
<line x1="392.6" y1="168.4" x2="387.5" y2="187.2" stroke="#222" stroke-width="0.6"/>
<line x1="404" y1="179.5" x2="386.2" y2="199.2" stroke="#222" stroke-width="0.6"/>
<line x1="398.8" y1="194" x2="384.6" y2="202" stroke="#222" stroke-width="0.6"/>
<line x1="391.2" y1="206" x2="384" y2="204.1" stroke="#222" stroke-width="0.6"/>
<line x1="396.7" y1="219" x2="386.5" y2="208" stroke="#222" stroke-width="0.6"/>
<line x1="351" y1="177" x2="368.8" y2="205" stroke="#222" stroke-width="0.6"/>
<line x1="349" y1="188" x2="368.8" y2="205" stroke="#222" stroke-width="0.6"/>
<line x1="372" y1="186" x2="379.7" y2="209" stroke="#222" stroke-width="0.6"/>
<line x1="359.3" y1="201" x2="374.2" y2="209.3" stroke="#222" stroke-width="0.6"/>
<line x1="350.3" y1="214" x2="375" y2="216.6" stroke="#222" stroke-width="0.6"/>
<line x1="318" y1="204" x2="362" y2="220.2" stroke="#222" stroke-width="0.6"/>
<line x1="372" y1="225.8" x2="376.7" y2="212.8" stroke="#222" stroke-width="0.6"/>
<line x1="394" y1="236" x2="388.4" y2="222.6" stroke="#222" stroke-width="0.6"/>
<line x1="414.5" y1="283.7" x2="379.7" y2="209" stroke="#222" stroke-width="0.6"/>
<line x1="393.5" y1="238" x2="380.4" y2="212.8" stroke="#222" stroke-width="0.6"/>
<line x1="325" y1="222" x2="356.4" y2="243.3" stroke="#222" stroke-width="0.6"/>
<line x1="335" y1="239" x2="351.2" y2="251.6" stroke="#222" stroke-width="0.6"/>
<line x1="309" y1="245" x2="339.6" y2="246.2" stroke="#222" stroke-width="0.6"/>
<line x1="377.4" y1="249" x2="373.4" y2="241.9" stroke="#222" stroke-width="0.6"/>
<line x1="378" y1="261" x2="365.6" y2="256.4" stroke="#222" stroke-width="0.6"/>
<line x1="322" y1="266.5" x2="335.3" y2="255.2" stroke="#222" stroke-width="0.6"/>
<line x1="350" y1="266" x2="346.9" y2="255.4" stroke="#222" stroke-width="0.6"/>
<line x1="322" y1="294.7" x2="325.3" y2="276.5" stroke="#222" stroke-width="0.6"/>
<line x1="354" y1="296" x2="338" y2="278.1" stroke="#222" stroke-width="0.6"/>
<line x1="342" y1="307.6" x2="339" y2="284.5" stroke="#222" stroke-width="0.6"/>
<line x1="323" y1="321.5" x2="319.5" y2="307.6" stroke="#222" stroke-width="0.6"/>
<line x1="316" y1="334" x2="317.2" y2="329.3" stroke="#222" stroke-width="0.6"/>
<line x1="339.6" y1="270" x2="332" y2="270.7" stroke="#222" stroke-width="0.6"/>
<circle cx="409.1" cy="151.7" r="1.35" fill="#111"/>
<circle cx="378.2" cy="179" r="1.35" fill="#111"/>
<circle cx="387.5" cy="187.2" r="1.35" fill="#111"/>
<circle cx="386.2" cy="199.2" r="1.35" fill="#111"/>
<circle cx="384.6" cy="202" r="1.35" fill="#111"/>
<circle cx="384" cy="204.1" r="1.35" fill="#111"/>
<circle cx="386.5" cy="208" r="1.35" fill="#111"/>
<circle cx="368.8" cy="205" r="1.35" fill="#111"/>
<circle cx="374.2" cy="209.3" r="1.35" fill="#111"/>
<circle cx="379.7" cy="209" r="1.35" fill="#111"/>
<circle cx="376.7" cy="212.8" r="1.35" fill="#111"/>
<circle cx="380.4" cy="212.8" r="1.35" fill="#111"/>
<circle cx="375" cy="216.6" r="1.35" fill="#111"/>
<circle cx="362" cy="220.2" r="1.35" fill="#111"/>
<circle cx="388.4" cy="222.6" r="1.35" fill="#111"/>
<circle cx="356.4" cy="243.3" r="1.35" fill="#111"/>
<circle cx="351.2" cy="251.6" r="1.35" fill="#111"/>
<circle cx="339.6" cy="246.2" r="1.35" fill="#111"/>
<circle cx="335.3" cy="255.2" r="1.35" fill="#111"/>
<circle cx="346.9" cy="255.4" r="1.35" fill="#111"/>
<circle cx="373.4" cy="241.9" r="1.35" fill="#111"/>
<circle cx="365.6" cy="256.4" r="1.35" fill="#111"/>
<circle cx="332" cy="270.7" r="1.35" fill="#111"/>
<circle cx="325.3" cy="276.5" r="1.35" fill="#111"/>
<circle cx="338" cy="278.1" r="1.35" fill="#111"/>
<circle cx="339" cy="284.5" r="1.35" fill="#111"/>
<circle cx="319.5" cy="307.6" r="1.35" fill="#111"/>
<circle cx="317.2" cy="329.3" r="1.35" fill="#111"/>
<rect x="409.9" y="142.6" width="11.5" height="7.4" rx="1.4" fill="#fff" stroke="#555" stroke-width="0.8"/>
<text x="410.3" y="148.6" font-size="6.4" textLength="10.7" lengthAdjust="spacingAndGlyphs" fill="#1a1a1a" class="lb">NF1</text>
<rect x="366.0" y="152.7" width="15.7" height="7.4" rx="1.4" fill="#fff" stroke="#555" stroke-width="0.8"/>
<text x="366.4" y="158.7" font-size="6.4" textLength="14.9" lengthAdjust="spacingAndGlyphs" fill="#1a1a1a" class="lb">TET2</text>
<rect x="388.1" y="161.5" width="12.9" height="7.4" rx="1.4" fill="#fff" stroke="#555" stroke-width="0.8"/>
<text x="388.5" y="167.5" font-size="6.4" textLength="12.1" lengthAdjust="spacingAndGlyphs" fill="#1a1a1a" class="lb">CBL</text>
<rect x="404.0" y="172.7" width="19.5" height="7.4" rx="1.4" fill="#fff" stroke="#555" stroke-width="0.8"/>
<text x="404.4" y="178.7" font-size="6.4" textLength="18.7" lengthAdjust="spacingAndGlyphs" fill="#1a1a1a" class="lb">ASXL1</text>
<rect x="339.0" y="169.9" width="13.9" height="7.4" rx="1.4" fill="#fff" stroke="#555" stroke-width="0.8"/>
<text x="339.4" y="175.9" font-size="6.4" textLength="13.1" lengthAdjust="spacingAndGlyphs" fill="#1a1a1a" class="lb">FLT3</text>
<rect x="358.8" y="179.1" width="15.6" height="7.4" rx="1.4" fill="#fff" stroke="#555" stroke-width="0.8"/>
<text x="359.2" y="185.1" font-size="6.4" textLength="14.8" lengthAdjust="spacingAndGlyphs" fill="#1a1a1a" class="lb">PHF6</text>
<rect x="324.8" y="183.0" width="23.8" height="7.4" rx="1.4" fill="#fff" stroke="#555" stroke-width="0.8"/>
<text x="325.2" y="189.0" font-size="6.4" textLength="23.0" lengthAdjust="spacingAndGlyphs" fill="#1a1a1a" class="lb">DNMT3A</text>
<rect x="399.2" y="189.7" width="15.2" height="7.4" rx="1.4" fill="#fff" stroke="#555" stroke-width="0.8"/>
<text x="399.6" y="195.7" font-size="6.4" textLength="14.4" lengthAdjust="spacingAndGlyphs" fill="#1a1a1a" class="lb">IDH2</text>
<rect x="342.2" y="197.2" width="16.7" height="7.4" rx="1.4" fill="#fff" stroke="#555" stroke-width="0.8"/>
<text x="342.6" y="203.2" font-size="6.4" textLength="15.9" lengthAdjust="spacingAndGlyphs" fill="#1a1a1a" class="lb">CUX1</text>
<rect x="297.8" y="198.9" width="19.8" height="7.4" rx="1.4" fill="#fff" stroke="#555" stroke-width="0.8"/>
<text x="298.2" y="204.9" font-size="6.4" textLength="19.0" lengthAdjust="spacingAndGlyphs" fill="#1a1a1a" class="lb">SRSF2</text>
<rect x="391.6" y="202.2" width="9.8" height="7.4" rx="1.4" fill="#fff" stroke="#555" stroke-width="0.8"/>
<text x="392.0" y="208.2" font-size="6.4" textLength="9.0" lengthAdjust="spacingAndGlyphs" fill="#1a1a1a" class="lb">KIT</text>
<rect x="330.7" y="210.0" width="19.2" height="7.4" rx="1.4" fill="#fff" stroke="#555" stroke-width="0.8"/>
<text x="331.1" y="216.0" font-size="6.4" textLength="18.4" lengthAdjust="spacingAndGlyphs" fill="#1a1a1a" class="lb">ZRSR2</text>
<rect x="397.1" y="215.1" width="14.9" height="7.4" rx="1.4" fill="#fff" stroke="#555" stroke-width="0.8"/>
<text x="397.5" y="221.1" font-size="6.4" textLength="14.1" lengthAdjust="spacingAndGlyphs" fill="#1a1a1a" class="lb">IDH1</text>
<rect x="305.5" y="216.5" width="20.9" height="7.4" rx="1.4" fill="#fff" stroke="#555" stroke-width="0.8"/>
<text x="305.9" y="222.5" font-size="6.4" textLength="20.1" lengthAdjust="spacingAndGlyphs" fill="#1a1a1a" class="lb">RAD21</text>
<rect x="345.0" y="224.1" width="15.5" height="7.4" rx="1.4" fill="#fff" stroke="#555" stroke-width="0.8"/>
<text x="345.4" y="230.1" font-size="6.4" textLength="14.7" lengthAdjust="spacingAndGlyphs" fill="#1a1a1a" class="lb">ETV6</text>
<rect x="367.9" y="225.6" width="12.7" height="7.4" rx="1.4" fill="#fff" stroke="#555" stroke-width="0.8"/>
<text x="374.2" y="231.6" font-size="6.4" text-anchor="middle" fill="#1a1a1a" class="lb">WT</text>
<rect x="317.9" y="233.0" width="17.6" height="7.4" rx="1.4" fill="#fff" stroke="#555" stroke-width="0.8"/>
<text x="318.3" y="239.0" font-size="6.4" textLength="16.8" lengthAdjust="spacingAndGlyphs" fill="#1a1a1a" class="lb">NRAS</text>
<rect x="393.6" y="235.1" width="18.6" height="7.4" rx="1.4" fill="#fff" stroke="#555" stroke-width="0.8"/>
<text x="394.0" y="241.1" font-size="6.4" textLength="17.8" lengthAdjust="spacingAndGlyphs" fill="#1a1a1a" class="lb">GATA2</text>
<rect x="288.5" y="240.9" width="20.1" height="7.4" rx="1.4" fill="#fff" stroke="#555" stroke-width="0.8"/>
<text x="288.9" y="246.9" font-size="6.4" textLength="19.3" lengthAdjust="spacingAndGlyphs" fill="#1a1a1a" class="lb">SF3B1</text>
<rect x="376.9" y="248.4" width="17.2" height="7.4" rx="1.4" fill="#fff" stroke="#555" stroke-width="0.8"/>
<text x="377.3" y="254.4" font-size="6.4" textLength="16.4" lengthAdjust="spacingAndGlyphs" fill="#1a1a1a" class="lb">KRAS</text>
<rect x="378.4" y="258.2" width="16.8" height="7.4" rx="1.4" fill="#fff" stroke="#555" stroke-width="0.8"/>
<text x="378.8" y="264.2" font-size="6.4" textLength="16.0" lengthAdjust="spacingAndGlyphs" fill="#1a1a1a" class="lb">EZH2</text>
<rect x="305.4" y="266.1" width="20.0" height="7.4" rx="1.4" fill="#fff" stroke="#555" stroke-width="0.8"/>
<text x="305.8" y="272.1" font-size="6.4" textLength="19.2" lengthAdjust="spacingAndGlyphs" fill="#1a1a1a" class="lb">CEBPA</text>
<rect x="340.0" y="265.8" width="14.6" height="7.4" rx="1.4" fill="#fff" stroke="#555" stroke-width="0.8"/>
<text x="340.4" y="271.8" font-size="6.4" textLength="13.8" lengthAdjust="spacingAndGlyphs" fill="#1a1a1a" class="lb">JAK2</text>
<rect x="358.4" y="270.4" width="18.9" height="7.4" rx="1.4" fill="#fff" stroke="#555" stroke-width="0.8"/>
<text x="358.8" y="276.4" font-size="6.4" textLength="18.1" lengthAdjust="spacingAndGlyphs" fill="#1a1a1a" class="lb">U2AF2</text>
<rect x="413.9" y="283.2" width="19.7" height="7.4" rx="1.4" fill="#fff" stroke="#555" stroke-width="0.8"/>
<text x="414.3" y="289.2" font-size="6.4" textLength="18.9" lengthAdjust="spacingAndGlyphs" fill="#1a1a1a" class="lb">BCOR</text>
<rect x="314.2" y="294.2" width="16.9" height="7.4" rx="1.4" fill="#fff" stroke="#555" stroke-width="0.8"/>
<text x="314.6" y="300.2" font-size="6.4" textLength="16.1" lengthAdjust="spacingAndGlyphs" fill="#1a1a1a" class="lb">NPM1</text>
<rect x="353.9" y="294.8" width="20.7" height="7.4" rx="1.4" fill="#fff" stroke="#555" stroke-width="0.8"/>
<text x="354.3" y="300.8" font-size="6.4" textLength="19.9" lengthAdjust="spacingAndGlyphs" fill="#1a1a1a" class="lb">RUNX1</text>
<rect x="333.8" y="307.3" width="19.3" height="7.4" rx="1.4" fill="#fff" stroke="#555" stroke-width="0.8"/>
<text x="334.2" y="313.3" font-size="6.4" textLength="18.5" lengthAdjust="spacingAndGlyphs" fill="#1a1a1a" class="lb">U2AF1</text>
<rect x="315.1" y="320.9" width="18.8" height="7.4" rx="1.4" fill="#fff" stroke="#555" stroke-width="0.8"/>
<text x="315.5" y="326.9" font-size="6.4" textLength="18.0" lengthAdjust="spacingAndGlyphs" fill="#1a1a1a" class="lb">STAG2</text>
<rect x="304.2" y="333.8" width="22.4" height="7.4" rx="1.4" fill="#fff" stroke="#555" stroke-width="0.8"/>
<text x="304.6" y="339.8" font-size="6.4" textLength="21.6" lengthAdjust="spacingAndGlyphs" fill="#1a1a1a" class="lb">PTPN11</text>
<line x1="452.4" y1="313" x2="452.4" y2="363" stroke="#222" stroke-width="0.7"/>
<path d="M450.8,314.8 L454,314.8 L452.4,311.7 Z M450.8,361 L454,361 L452.4,364.4 Z" fill="#222"/>
<line x1="428" y1="338.4" x2="477.6" y2="338.4" stroke="#222" stroke-width="0.7"/>
<path d="M429.2,336.8 L429.2,340 L426.2,338.4 Z M476.4,336.8 L476.4,340 L479.4,338.4 Z" fill="#222"/>
<line x1="431.9" y1="358.4" x2="472.7" y2="318.2" stroke="#222" stroke-width="0.6" stroke-dasharray="2,1.6"/>
<ellipse cx="449.4" cy="346.7" rx="4.8" ry="8.6" transform="rotate(30 449.4 346.7)" fill="#ee7f8a" fill-opacity="0.75"/>
<text x="435.8" y="307.5" font-size="6.80" fill="#222" textLength="35.4" lengthAdjust="spacingAndGlyphs">Up in P95H</text>
<text x="476.2" y="317.2" font-size="6.80" fill="#222" textLength="26.9" lengthAdjust="spacingAndGlyphs">Common</text>
<text x="383.9" y="341" font-size="6.80" fill="#222" textLength="36.9" lengthAdjust="spacingAndGlyphs">Down in WT</text>
<text x="480.7" y="341" font-size="6.80" fill="#222" textLength="28.3" lengthAdjust="spacingAndGlyphs">Up in WT</text>
<text x="434" y="374.7" font-size="6.80" fill="#222" textLength="43.9" lengthAdjust="spacingAndGlyphs">Down in P95H</text>
</svg></body></html>
